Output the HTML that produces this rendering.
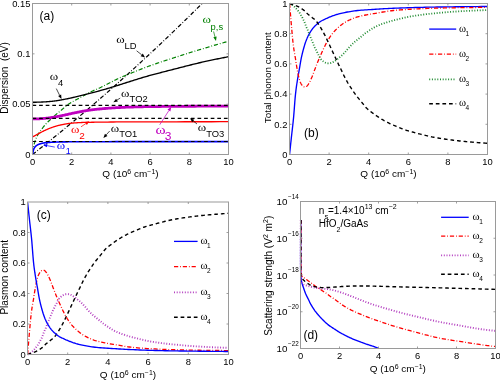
<!DOCTYPE html>
<html><head><meta charset="utf-8"><style>
html,body{margin:0;padding:0;background:#fff;}
svg{display:block;will-change:transform;filter:blur(0.35px);}
text{font-family:"Liberation Sans", sans-serif;}
</style></head><body>
<svg width="500" height="381" viewBox="0 0 500 381" xmlns="http://www.w3.org/2000/svg">
<rect width="500" height="381" fill="#fff"/>
<g id="a">
<path d="M32.50,154.50 L34.46,152.96 L36.42,151.42 L38.38,149.87 L40.34,148.32 L42.30,146.76 L44.26,145.20 L46.22,143.63 L48.18,142.06 L50.14,140.49 L52.10,138.91 L54.06,137.32 L56.02,135.73 L57.98,134.13 L59.94,132.53 L61.90,130.93 L63.86,129.32 L65.82,127.70 L67.78,126.08 L69.74,124.46 L71.70,122.83 L73.66,121.19 L75.62,119.55 L77.58,117.91 L79.54,116.26 L81.50,114.60 L83.46,112.95 L85.42,111.28 L87.38,109.61 L89.34,107.94 L91.30,106.26 L93.26,104.58 L95.22,102.89 L97.18,101.20 L99.14,99.50 L101.10,97.80 L103.06,96.09 L105.02,94.38 L106.98,92.66 L108.94,90.94 L110.90,89.21 L112.86,87.48 L114.82,85.74 L116.78,84.00 L118.74,82.26 L120.70,80.50 L122.66,78.75 L124.62,76.99 L126.58,75.22 L128.54,73.45 L130.50,71.68 L132.46,69.90 L134.42,68.11 L136.38,66.32 L138.34,64.53 L140.30,62.73 L142.26,60.92 L144.22,59.11 L146.18,57.30 L148.14,55.48 L150.10,53.66 L152.06,51.83 L154.02,49.99 L155.98,48.16 L157.94,46.31 L159.90,44.46 L161.86,42.61 L163.82,40.75 L165.78,38.89 L167.74,37.02 L169.70,35.15 L171.66,33.27 L173.62,31.39 L175.58,29.50 L177.54,27.61 L179.50,25.72 L181.46,23.81 L183.42,21.91 L185.38,20.00 L187.34,18.08 L189.30,16.16 L191.26,14.23 L193.22,12.30 L195.18,10.37 L197.14,8.43 L199.10,6.48 L201.06,4.53 L202.10,3.50" fill="none" stroke="#000" stroke-width="1.2" stroke-dasharray="4.2 1.9 0.8 1.9" stroke-linejoin="round" />
<path d="M32.60,153.00 L32.65,152.63 L32.69,152.25 L32.74,151.88 L32.78,151.52 L32.82,151.15 L32.87,150.78 L32.91,150.40 L32.96,150.03 L33.01,149.65 L33.07,149.27 L33.13,148.89 L33.20,148.50 L33.28,148.06 L33.37,147.61 L33.47,147.15 L33.57,146.68 L33.68,146.21 L33.79,145.74 L33.90,145.27 L34.02,144.81 L34.13,144.34 L34.26,143.89 L34.38,143.44 L34.50,143.00 L34.61,142.61 L34.73,142.22 L34.84,141.83 L34.96,141.45 L35.08,141.07 L35.20,140.69 L35.32,140.32 L35.45,139.95 L35.58,139.59 L35.71,139.22 L35.85,138.86 L36.00,138.50 L36.15,138.15 L36.30,137.81 L36.45,137.47 L36.61,137.13 L36.77,136.79 L36.94,136.46 L37.10,136.13 L37.28,135.80 L37.45,135.47 L37.63,135.15 L37.81,134.82 L38.00,134.50 L38.19,134.18 L38.38,133.87 L38.58,133.56 L38.78,133.26 L38.98,132.95 L39.19,132.65 L39.40,132.35 L39.61,132.04 L39.83,131.74 L40.05,131.43 L40.27,131.12 L40.50,130.80 L40.76,130.44 L41.03,130.06 L41.31,129.68 L41.59,129.30 L41.87,128.92 L42.16,128.53 L42.45,128.14 L42.74,127.76 L43.04,127.39 L43.33,127.01 L43.61,126.65 L43.90,126.30 L44.16,125.99 L44.41,125.68 L44.67,125.38 L44.93,125.08 L45.18,124.78 L45.44,124.49 L45.70,124.21 L45.95,123.92 L46.21,123.64 L46.47,123.36 L46.74,123.08 L47.00,122.80 L47.26,122.53 L47.52,122.27 L47.78,122.00 L48.05,121.74 L48.31,121.49 L48.58,121.23 L48.84,120.98 L49.11,120.72 L49.38,120.47 L49.65,120.21 L49.93,119.96 L50.20,119.70 L50.48,119.43 L50.77,119.17 L51.06,118.90 L51.35,118.63 L51.64,118.36 L51.93,118.09 L52.22,117.83 L52.52,117.56 L52.81,117.29 L53.11,117.03 L53.40,116.76 L53.70,116.50 L54.00,116.24 L54.30,115.98 L54.59,115.71 L54.90,115.45 L55.20,115.19 L55.50,114.93 L55.80,114.67 L56.10,114.42 L56.40,114.16 L56.70,113.90 L57.00,113.65 L57.30,113.40 L57.59,113.16 L57.87,112.92 L58.16,112.69 L58.44,112.45 L58.72,112.22 L59.01,111.99 L59.29,111.75 L59.57,111.52 L59.85,111.29 L60.14,111.06 L60.42,110.83 L60.70,110.60 L60.98,110.37 L61.25,110.15 L61.52,109.93 L61.79,109.71 L62.06,109.49 L62.33,109.27 L62.60,109.05 L62.87,108.83 L63.15,108.60 L63.43,108.37 L63.71,108.14 L64.00,107.90 L64.34,107.61 L64.70,107.31 L65.08,106.99 L65.46,106.66 L65.84,106.32 L66.22,105.99 L66.60,105.67 L66.97,105.35 L67.33,105.06 L67.67,104.78 L68.00,104.52 L68.30,104.30 L68.47,104.18 L68.63,104.07 L68.78,103.98 L68.92,103.89 L69.05,103.80 L69.19,103.73 L69.33,103.65 L69.46,103.57 L69.61,103.49 L69.76,103.40 L69.92,103.30 L70.10,103.20 L70.40,103.02 L70.72,102.83 L71.06,102.62 L71.42,102.40 L71.79,102.18 L72.17,101.95 L72.56,101.72 L72.96,101.49 L73.35,101.26 L73.74,101.03 L74.12,100.81 L74.50,100.60 L74.87,100.40 L75.23,100.20 L75.60,100.01 L75.97,99.81 L76.35,99.62 L76.72,99.43 L77.09,99.24 L77.46,99.05 L77.82,98.86 L78.19,98.68 L78.55,98.49 L78.90,98.30 L79.23,98.12 L79.55,97.95 L79.87,97.77 L80.19,97.59 L80.51,97.42 L80.82,97.24 L81.13,97.07 L81.45,96.89 L81.76,96.72 L82.07,96.55 L82.39,96.37 L82.70,96.20 L83.01,96.03 L83.32,95.86 L83.62,95.70 L83.93,95.53 L84.23,95.37 L84.54,95.20 L84.85,95.04 L85.15,94.87 L85.46,94.70 L85.77,94.54 L86.09,94.37 L86.40,94.20 L86.73,94.02 L87.07,93.84 L87.41,93.65 L87.75,93.46 L88.09,93.28 L88.43,93.09 L88.78,92.90 L89.12,92.72 L89.47,92.53 L89.81,92.35 L90.16,92.17 L90.50,92.00 L90.84,91.83 L91.17,91.67 L91.51,91.51 L91.84,91.35 L92.17,91.20 L92.51,91.04 L92.85,90.89 L93.19,90.73 L93.53,90.58 L93.88,90.42 L94.24,90.26 L94.60,90.10 L95.02,89.92 L95.45,89.73 L95.89,89.55 L96.34,89.37 L96.79,89.18 L97.24,88.99 L97.70,88.81 L98.16,88.61 L98.62,88.42 L99.08,88.22 L99.54,88.01 L100.00,87.80 L100.49,87.56 L100.99,87.32 L101.48,87.07 L101.98,86.81 L102.48,86.55 L102.99,86.29 L103.49,86.02 L103.99,85.75 L104.49,85.48 L105.00,85.22 L105.50,84.96 L106.00,84.70 L106.50,84.45 L106.99,84.20 L107.48,83.95 L107.97,83.71 L108.45,83.47 L108.94,83.22 L109.44,82.98 L109.94,82.73 L110.44,82.48 L110.95,82.22 L111.47,81.96 L112.00,81.70 L112.63,81.38 L113.27,81.06 L113.92,80.73 L114.58,80.39 L115.25,80.04 L115.92,79.70 L116.60,79.35 L117.28,79.01 L117.96,78.67 L118.65,78.34 L119.32,78.01 L120.00,77.70 L120.66,77.40 L121.33,77.11 L121.99,76.83 L122.66,76.55 L123.32,76.28 L123.99,76.00 L124.66,75.74 L125.33,75.47 L126.00,75.20 L126.66,74.94 L127.33,74.67 L128.00,74.40 L128.66,74.13 L129.33,73.86 L129.99,73.60 L130.65,73.33 L131.31,73.07 L131.97,72.81 L132.63,72.54 L133.30,72.28 L133.97,72.01 L134.64,71.74 L135.32,71.47 L136.00,71.20 L136.72,70.91 L137.44,70.62 L138.16,70.33 L138.87,70.03 L139.59,69.74 L140.32,69.44 L141.05,69.14 L141.80,68.84 L142.57,68.54 L143.36,68.23 L144.17,67.92 L145.00,67.60 L146.11,67.18 L147.28,66.75 L148.49,66.31 L149.73,65.87 L151.00,65.41 L152.28,64.96 L153.58,64.50 L154.89,64.05 L156.19,63.60 L157.48,63.16 L158.75,62.72 L160.00,62.30 L161.18,61.90 L162.36,61.52 L163.53,61.14 L164.70,60.76 L165.86,60.39 L167.03,60.02 L168.19,59.65 L169.35,59.29 L170.51,58.92 L171.67,58.55 L172.84,58.18 L174.00,57.80 L175.17,57.42 L176.33,57.03 L177.50,56.65 L178.67,56.26 L179.83,55.87 L181.00,55.48 L182.16,55.09 L183.33,54.71 L184.50,54.33 L185.66,53.95 L186.83,53.57 L188.00,53.20 L189.16,52.84 L190.33,52.48 L191.50,52.12 L192.66,51.77 L193.83,51.42 L195.00,51.08 L196.16,50.73 L197.33,50.39 L198.50,50.04 L199.67,49.70 L200.83,49.35 L202.00,49.00 L203.17,48.65 L204.34,48.29 L205.52,47.94 L206.69,47.58 L207.87,47.22 L209.05,46.87 L210.22,46.51 L211.39,46.16 L212.55,45.81 L213.71,45.47 L214.86,45.13 L216.00,44.80 L217.07,44.49 L218.12,44.19 L219.17,43.89 L220.22,43.60 L221.26,43.31 L222.29,43.02 L223.33,42.74 L224.36,42.45 L225.39,42.16 L226.42,41.88 L227.46,41.59 L228.50,41.30" fill="none" stroke="#008000" stroke-width="1.2" stroke-dasharray="4.2 1.9 0.8 1.9" stroke-linejoin="round" />
<path d="M32.50,102.30 L33.13,102.28 L33.76,102.27 L34.39,102.25 L35.03,102.24 L35.67,102.22 L36.30,102.21 L36.93,102.19 L37.56,102.18 L38.18,102.16 L38.80,102.14 L39.40,102.12 L40.00,102.10 L40.52,102.08 L41.04,102.06 L41.55,102.04 L42.05,102.02 L42.55,101.99 L43.04,101.97 L43.53,101.94 L44.03,101.92 L44.52,101.89 L45.01,101.86 L45.50,101.83 L46.00,101.80 L46.50,101.77 L47.00,101.73 L47.50,101.70 L48.00,101.66 L48.50,101.62 L49.00,101.58 L49.50,101.54 L50.00,101.50 L50.50,101.45 L51.00,101.40 L51.50,101.35 L52.00,101.30 L52.50,101.24 L53.00,101.19 L53.50,101.13 L54.00,101.07 L54.50,101.00 L55.00,100.94 L55.50,100.87 L56.00,100.80 L56.50,100.73 L57.00,100.65 L57.50,100.58 L58.00,100.50 L58.50,100.42 L59.00,100.34 L59.50,100.25 L60.00,100.16 L60.50,100.07 L61.00,99.97 L61.50,99.88 L62.00,99.78 L62.50,99.69 L63.00,99.59 L63.50,99.50 L64.00,99.40 L64.50,99.30 L65.00,99.21 L65.50,99.11 L66.00,99.01 L66.50,98.92 L67.00,98.82 L67.50,98.72 L68.00,98.62 L68.50,98.52 L69.00,98.41 L69.50,98.31 L70.00,98.20 L70.50,98.09 L71.00,97.98 L71.50,97.87 L72.00,97.75 L72.50,97.64 L73.00,97.52 L73.50,97.40 L74.00,97.28 L74.50,97.16 L75.00,97.04 L75.50,96.92 L76.00,96.80 L76.50,96.68 L77.00,96.56 L77.50,96.43 L78.00,96.31 L78.50,96.18 L79.00,96.06 L79.50,95.93 L80.00,95.80 L80.50,95.68 L81.00,95.55 L81.50,95.43 L82.00,95.30 L82.50,95.18 L83.00,95.05 L83.50,94.92 L84.00,94.80 L84.50,94.67 L85.00,94.55 L85.50,94.43 L86.00,94.30 L86.50,94.17 L87.00,94.05 L87.50,93.92 L88.00,93.80 L88.50,93.68 L89.00,93.55 L89.50,93.43 L90.00,93.30 L90.50,93.18 L91.00,93.06 L91.50,92.93 L92.00,92.81 L92.50,92.68 L93.00,92.56 L93.50,92.43 L94.00,92.30 L94.49,92.17 L94.98,92.05 L95.45,91.92 L95.93,91.80 L96.40,91.68 L96.87,91.55 L97.36,91.42 L97.85,91.29 L98.36,91.15 L98.88,91.01 L99.43,90.86 L100.00,90.70 L100.86,90.46 L101.76,90.20 L102.71,89.93 L103.70,89.65 L104.71,89.36 L105.75,89.06 L106.80,88.75 L107.85,88.44 L108.91,88.13 L109.96,87.82 L110.99,87.51 L112.00,87.20 L113.00,86.89 L114.00,86.58 L115.00,86.27 L116.00,85.95 L117.00,85.64 L118.00,85.32 L119.00,85.00 L120.00,84.68 L121.00,84.36 L122.00,84.04 L123.00,83.72 L124.00,83.40 L125.00,83.08 L126.00,82.76 L127.00,82.45 L128.00,82.13 L129.00,81.81 L130.00,81.49 L131.00,81.17 L132.00,80.85 L133.00,80.54 L134.00,80.22 L135.00,79.91 L136.00,79.60 L137.00,79.29 L138.00,78.98 L139.00,78.68 L140.00,78.37 L141.00,78.07 L141.99,77.76 L142.99,77.46 L144.00,77.16 L145.00,76.87 L146.00,76.58 L147.00,76.29 L148.00,76.00 L149.00,75.72 L149.99,75.45 L150.97,75.18 L151.96,74.91 L152.95,74.65 L153.94,74.38 L154.93,74.12 L155.93,73.86 L156.93,73.60 L157.95,73.34 L158.97,73.07 L160.00,72.80 L161.13,72.51 L162.27,72.21 L163.42,71.91 L164.59,71.61 L165.76,71.31 L166.93,71.01 L168.11,70.71 L169.29,70.41 L170.47,70.10 L171.65,69.80 L172.83,69.50 L174.00,69.20 L175.17,68.90 L176.33,68.60 L177.50,68.30 L178.67,67.99 L179.83,67.69 L181.00,67.39 L182.16,67.09 L183.33,66.79 L184.50,66.49 L185.67,66.19 L186.83,65.89 L188.00,65.60 L189.17,65.31 L190.33,65.02 L191.50,64.73 L192.66,64.44 L193.83,64.15 L195.00,63.86 L196.16,63.58 L197.33,63.30 L198.50,63.02 L199.66,62.74 L200.83,62.47 L202.00,62.20 L203.17,61.94 L204.34,61.67 L205.52,61.41 L206.69,61.16 L207.87,60.90 L209.05,60.65 L210.22,60.40 L211.39,60.16 L212.55,59.92 L213.71,59.67 L214.86,59.44 L216.00,59.20 L217.07,58.98 L218.12,58.76 L219.17,58.55 L220.22,58.34 L221.26,58.14 L222.29,57.93 L223.33,57.73 L224.36,57.52 L225.39,57.32 L226.42,57.11 L227.46,56.91 L228.50,56.70" fill="none" stroke="#000" stroke-width="1.35" stroke-linejoin="round" />
<path d="M32.50,119.00 L33.29,118.97 L34.08,118.94 L34.87,118.92 L35.66,118.89 L36.45,118.87 L37.24,118.84 L38.03,118.81 L38.82,118.78 L39.61,118.75 L40.40,118.70 L41.20,118.66 L42.00,118.60 L42.83,118.54 L43.65,118.47 L44.49,118.39 L45.32,118.31 L46.15,118.23 L46.99,118.14 L47.83,118.05 L48.66,117.95 L49.50,117.85 L50.33,117.74 L51.17,117.62 L52.00,117.50 L52.84,117.37 L53.67,117.23 L54.50,117.09 L55.34,116.94 L56.17,116.78 L57.01,116.62 L57.84,116.45 L58.67,116.28 L59.50,116.11 L60.34,115.94 L61.17,115.77 L62.00,115.60 L62.83,115.43 L63.67,115.25 L64.50,115.07 L65.33,114.88 L66.17,114.69 L67.00,114.51 L67.83,114.32 L68.67,114.13 L69.50,113.94 L70.33,113.76 L71.17,113.58 L72.00,113.40 L72.83,113.23 L73.67,113.05 L74.50,112.88 L75.33,112.70 L76.16,112.53 L77.00,112.36 L77.83,112.20 L78.66,112.03 L79.50,111.87 L80.33,111.71 L81.17,111.55 L82.00,111.40 L82.83,111.25 L83.65,111.11 L84.47,110.96 L85.28,110.82 L86.10,110.68 L86.91,110.55 L87.74,110.42 L88.57,110.29 L89.40,110.16 L90.25,110.04 L91.12,109.92 L92.00,109.80 L93.02,109.67 L94.05,109.55 L95.10,109.43 L96.17,109.31 L97.24,109.20 L98.33,109.09 L99.43,108.99 L100.53,108.89 L101.64,108.79 L102.76,108.69 L103.88,108.59 L105.00,108.50 L106.20,108.40 L107.41,108.31 L108.62,108.21 L109.84,108.12 L111.06,108.04 L112.30,107.95 L113.54,107.87 L114.80,107.79 L116.07,107.71 L117.36,107.64 L118.67,107.57 L120.00,107.50 L121.55,107.42 L123.12,107.35 L124.70,107.28 L126.30,107.22 L127.92,107.16 L129.57,107.10 L131.23,107.04 L132.93,106.99 L134.65,106.94 L136.40,106.89 L138.18,106.85 L140.00,106.80 L142.29,106.75 L144.65,106.70 L147.07,106.66 L149.55,106.62 L152.07,106.59 L154.62,106.56 L157.19,106.53 L159.78,106.50 L162.36,106.47 L164.93,106.45 L167.48,106.42 L170.00,106.40 L172.50,106.38 L175.01,106.35 L177.52,106.33 L180.03,106.31 L182.54,106.30 L185.05,106.28 L187.55,106.27 L190.06,106.25 L192.55,106.24 L195.04,106.23 L197.53,106.21 L200.00,106.20 L202.40,106.19 L204.79,106.18 L207.18,106.17 L209.55,106.16 L211.93,106.15 L214.30,106.14 L216.66,106.14 L219.03,106.13 L221.39,106.12 L223.76,106.12 L226.13,106.11 L228.50,106.10" fill="none" stroke="#bf00bf" stroke-width="2.8" stroke-linejoin="round" />
<path d="M32.50,137.00 L32.71,136.88 L32.91,136.77 L33.12,136.65 L33.32,136.54 L33.53,136.42 L33.73,136.30 L33.94,136.19 L34.15,136.07 L34.36,135.95 L34.57,135.84 L34.78,135.72 L35.00,135.60 L35.24,135.47 L35.47,135.34 L35.71,135.22 L35.95,135.09 L36.19,134.96 L36.43,134.83 L36.68,134.70 L36.93,134.57 L37.19,134.43 L37.45,134.29 L37.72,134.15 L38.00,134.00 L38.37,133.80 L38.76,133.59 L39.16,133.37 L39.57,133.14 L39.99,132.91 L40.42,132.67 L40.85,132.44 L41.28,132.20 L41.71,131.97 L42.15,131.74 L42.58,131.51 L43.00,131.30 L43.41,131.09 L43.83,130.89 L44.24,130.69 L44.66,130.49 L45.07,130.30 L45.49,130.10 L45.91,129.91 L46.33,129.73 L46.74,129.54 L47.16,129.36 L47.58,129.18 L48.00,129.00 L48.41,128.83 L48.83,128.66 L49.24,128.49 L49.66,128.33 L50.08,128.16 L50.49,128.00 L50.91,127.85 L51.33,127.69 L51.74,127.54 L52.16,127.39 L52.58,127.24 L53.00,127.10 L53.41,126.96 L53.83,126.82 L54.24,126.69 L54.66,126.56 L55.08,126.43 L55.49,126.30 L55.91,126.18 L56.33,126.06 L56.75,125.94 L57.16,125.82 L57.58,125.71 L58.00,125.60 L58.41,125.49 L58.83,125.39 L59.25,125.29 L59.66,125.20 L60.08,125.10 L60.50,125.01 L60.91,124.92 L61.33,124.84 L61.75,124.75 L62.16,124.67 L62.58,124.58 L63.00,124.50 L63.41,124.42 L63.81,124.34 L64.21,124.26 L64.60,124.18 L64.99,124.10 L65.39,124.02 L65.79,123.95 L66.20,123.88 L66.63,123.81 L67.06,123.74 L67.52,123.67 L68.00,123.60 L68.70,123.51 L69.43,123.42 L70.19,123.33 L70.98,123.25 L71.79,123.17 L72.62,123.10 L73.47,123.02 L74.34,122.95 L75.23,122.88 L76.14,122.82 L77.06,122.76 L78.00,122.70 L79.24,122.63 L80.50,122.57 L81.79,122.52 L83.11,122.47 L84.46,122.43 L85.84,122.39 L87.26,122.35 L88.72,122.32 L90.22,122.29 L91.76,122.26 L93.36,122.23 L95.00,122.20 L97.42,122.16 L99.90,122.12 L102.46,122.09 L105.08,122.06 L107.80,122.03 L110.61,122.01 L113.53,121.99 L116.56,121.97 L119.71,121.95 L123.00,121.94 L126.42,121.92 L130.00,121.90 L136.46,121.87 L143.53,121.84 L151.12,121.82 L159.14,121.81 L167.51,121.79 L176.13,121.78 L184.93,121.76 L193.82,121.75 L202.71,121.74 L211.51,121.73 L220.13,121.72 L228.50,121.70" fill="none" stroke="#ff0000" stroke-width="1.3" stroke-linejoin="round" />
<path d="M32.60,154.50 L32.65,154.21 L32.69,153.91 L32.74,153.61 L32.78,153.32 L32.82,153.02 L32.87,152.72 L32.91,152.43 L32.96,152.13 L33.01,151.84 L33.07,151.56 L33.13,151.28 L33.20,151.00 L33.27,150.75 L33.33,150.50 L33.41,150.26 L33.48,150.01 L33.56,149.77 L33.64,149.53 L33.72,149.30 L33.81,149.07 L33.90,148.84 L33.99,148.62 L34.09,148.41 L34.20,148.20 L34.30,148.02 L34.40,147.85 L34.50,147.67 L34.61,147.51 L34.72,147.34 L34.84,147.18 L34.96,147.03 L35.08,146.88 L35.20,146.73 L35.33,146.58 L35.46,146.44 L35.60,146.30 L35.74,146.16 L35.88,146.03 L36.03,145.90 L36.18,145.78 L36.33,145.66 L36.49,145.54 L36.65,145.43 L36.82,145.31 L36.98,145.21 L37.15,145.10 L37.33,145.00 L37.50,144.90 L37.69,144.80 L37.89,144.70 L38.08,144.61 L38.29,144.52 L38.49,144.43 L38.70,144.35 L38.91,144.27 L39.13,144.20 L39.34,144.12 L39.56,144.05 L39.78,143.97 L40.00,143.90 L40.24,143.82 L40.47,143.75 L40.71,143.67 L40.95,143.60 L41.19,143.53 L41.43,143.46 L41.68,143.40 L41.93,143.33 L42.19,143.27 L42.45,143.21 L42.72,143.16 L43.00,143.10 L43.37,143.03 L43.75,142.97 L44.14,142.91 L44.54,142.86 L44.95,142.80 L45.36,142.76 L45.79,142.71 L46.22,142.66 L46.66,142.62 L47.10,142.58 L47.55,142.54 L48.00,142.50 L48.53,142.45 L49.07,142.41 L49.60,142.37 L50.15,142.34 L50.70,142.30 L51.26,142.27 L51.84,142.24 L52.43,142.21 L53.04,142.18 L53.67,142.15 L54.32,142.13 L55.00,142.10 L56.04,142.06 L57.11,142.03 L58.23,142.00 L59.39,141.97 L60.59,141.94 L61.82,141.92 L63.10,141.89 L64.41,141.87 L65.76,141.85 L67.14,141.84 L68.55,141.82 L70.00,141.80 L72.07,141.78 L74.16,141.76 L76.29,141.75 L78.46,141.74 L80.71,141.73 L83.05,141.72 L85.50,141.72 L88.07,141.72 L90.79,141.71 L93.67,141.71 L96.74,141.71 L100.00,141.70 L107.57,141.69 L116.23,141.67 L125.83,141.66 L136.20,141.66 L147.19,141.65 L158.65,141.64 L170.42,141.63 L182.35,141.63 L194.28,141.62 L206.05,141.61 L217.51,141.61 L228.50,141.60" fill="none" stroke="#0000ff" stroke-width="1.6" stroke-linejoin="round" />
<path d="M32.5,141.5 H228.5" stroke="#000" stroke-width="1.2" stroke-dasharray="3.7 2.9" fill="none"/>
<path d="M32.5,118.4 H228.5" stroke="#000" stroke-width="1.2" stroke-dasharray="3.7 2.9" fill="none"/>
<path d="M32.5,105.4 H228.5" stroke="#000" stroke-width="1.2" stroke-dasharray="3.7 2.9" fill="none"/>
<rect x="32.5" y="3.5" width="196.0" height="151.0" fill="none" stroke="#9a9a9a" stroke-width="1"/>
<path d="M71.70,154.5 v-2.0 M71.70,3.5 v2.0 M110.90,154.5 v-2.0 M110.90,3.5 v2.0 M150.10,154.5 v-2.0 M150.10,3.5 v2.0 M189.30,154.5 v-2.0 M189.30,3.5 v2.0 M32.5,104.17 h2.0 M228.5,104.17 h-2.0 M32.5,53.83 h2.0 M228.5,53.83 h-2.0" stroke="#888" stroke-width="0.8" fill="none"/>
<text x="32.50" y="164.6" font-size="9.4" text-anchor="middle" fill="#000" >0</text>
<text x="71.70" y="164.6" font-size="9.4" text-anchor="middle" fill="#000" >2</text>
<text x="110.90" y="164.6" font-size="9.4" text-anchor="middle" fill="#000" >4</text>
<text x="150.10" y="164.6" font-size="9.4" text-anchor="middle" fill="#000" >6</text>
<text x="189.30" y="164.6" font-size="9.4" text-anchor="middle" fill="#000" >8</text>
<text x="228.50" y="164.6" font-size="9.4" text-anchor="middle" fill="#000" >10</text>
<text x="30.4" y="157.80" font-size="9.4" text-anchor="end" fill="#000" >0</text>
<text x="30.4" y="107.47" font-size="9.4" text-anchor="end" fill="#000" >0.05</text>
<text x="30.4" y="57.13" font-size="9.4" text-anchor="end" fill="#000" >0.1</text>
<text x="30.4" y="6.80" font-size="9.4" text-anchor="end" fill="#000" >0.15</text>
<text transform="translate(130.5,177.4) scale(1,0.9)" font-size="10" text-anchor="middle" fill="#000" >Q (10<tspan dy="-4" font-size="7">6</tspan><tspan dy="4"> cm</tspan><tspan dy="-4" font-size="7">&#8722;1</tspan><tspan dy="4">)</tspan></text>
<text transform="translate(7.6,78) rotate(-90)" font-size="10" text-anchor="middle">Dispersion&#160; (eV)</text>
<text x="39.6" y="20.3" font-size="12" text-anchor="start" fill="#000" >(a)</text>
<text transform="translate(116.2,43.0) scale(1.22,1.0)" font-size="10.50" fill="#000" style="font-family:'Liberation Serif',serif">&#969;</text>
<text transform="translate(124.41,48.60) scale(1,0.92)" font-size="9.4" fill="#000">LD</text>
<path d="M136.60,50.80 L141.70,54.81" stroke="#000" stroke-width="0.7" fill="none"/>
<path d="M145.00,57.40 L140.65,56.14 L142.75,53.47 Z" fill="#000"/>
<text transform="translate(202.4,23.3) scale(1.22,1.0)" font-size="10.50" fill="#008000" style="font-family:'Liberation Serif',serif">&#969;</text>
<text transform="translate(210.61,30.30) scale(1,0.92)" font-size="9.4" fill="#008000">p,s</text>
<path d="M213.60,31.50 L214.97,36.93" stroke="#008000" stroke-width="0.7" fill="none"/>
<path d="M216.00,41.00 L213.32,37.34 L216.62,36.51 Z" fill="#008000"/>
<text transform="translate(49.699999999999996,79.9) scale(1.22,1.0)" font-size="10.50" fill="#000" style="font-family:'Liberation Serif',serif">&#969;</text>
<text transform="translate(57.91,85.60) scale(1,0.92)" font-size="9.4" fill="#000">4</text>
<path d="M56.30,88.60 L59.64,95.34" stroke="#000" stroke-width="0.7" fill="none"/>
<path d="M61.50,99.10 L58.11,96.09 L61.16,94.58 Z" fill="#000"/>
<text transform="translate(121.10000000000001,96.7) scale(1.22,1.0)" font-size="10.50" fill="#000" style="font-family:'Liberation Serif',serif">&#969;</text>
<text transform="translate(129.61,101.60) scale(1,0.92)" font-size="9.4" fill="#000">TO2</text>
<path d="M120.20,98.10 L116.97,100.09" stroke="#000" stroke-width="0.7" fill="none"/>
<path d="M113.40,102.30 L116.08,98.65 L117.87,101.54 Z" fill="#000"/>
<text transform="translate(110.7,132.2) scale(1.22,1.0)" font-size="10.50" fill="#000" style="font-family:'Liberation Serif',serif">&#969;</text>
<text transform="translate(119.21,137.30) scale(1,0.92)" font-size="9.4" fill="#000">TO1</text>
<path d="M109.70,131.00 L106.21,134.88" stroke="#000" stroke-width="0.7" fill="none"/>
<path d="M103.40,138.00 L104.95,133.74 L107.47,136.02 Z" fill="#000"/>
<text transform="translate(197.70000000000002,130.7) scale(1.22,1.0)" font-size="10.50" fill="#000" style="font-family:'Liberation Serif',serif">&#969;</text>
<text transform="translate(206.21,136.80) scale(1,0.92)" font-size="9.4" fill="#000">TO3</text>
<path d="M197.00,124.00 L193.26,120.95" stroke="#000" stroke-width="0.7" fill="none"/>
<path d="M190.00,118.30 L194.33,119.63 L192.18,122.27 Z" fill="#000"/>
<text transform="translate(70.9,133.1) scale(1.22,1.0)" font-size="10.50" fill="#ff0000" style="font-family:'Liberation Serif',serif">&#969;</text>
<text transform="translate(79.31,138.50) scale(1,0.9)" font-size="10" fill="#ff0000">2</text>
<path d="M81.00,126.80 L85.91,123.53" stroke="#ff0000" stroke-width="0.7" fill="none"/>
<path d="M89.40,121.20 L86.85,124.94 L84.96,122.12 Z" fill="#ff0000"/>
<text transform="translate(155.5,133.7) scale(1.22,1.0)" font-size="12.60" fill="#bf00bf" style="font-family:'Liberation Serif',serif">&#969;</text>
<text transform="translate(164.67,139.90) scale(1,0.92)" font-size="12" fill="#bf00bf">3</text>
<path d="M159.70,124.80 L168.92,110.53" stroke="#bf00bf" stroke-width="0.7" fill="none"/>
<path d="M171.20,107.00 L170.35,111.45 L167.49,109.61 Z" fill="#bf00bf"/>
<text transform="translate(56.699999999999996,149.2) scale(1.22,1.0)" font-size="10.50" fill="#0000ff" style="font-family:'Liberation Serif',serif">&#969;</text>
<text transform="translate(65.81,153.80) scale(1,0.92)" font-size="9" fill="#0000ff">1</text>
<path d="M54.80,147.10 L47.13,145.67" stroke="#0000ff" stroke-width="0.7" fill="none"/>
<path d="M43.00,144.90 L47.44,144.00 L46.82,147.34 Z" fill="#0000ff"/>
</g>
<g id="b">
<path d="M289.60,154.20 L289.75,152.74 L289.91,151.28 L290.06,149.82 L290.22,148.37 L290.37,146.91 L290.53,145.45 L290.68,143.99 L290.84,142.53 L291.00,141.07 L291.15,139.61 L291.31,138.14 L291.47,136.68 L291.63,135.21 L291.80,133.74 L291.96,132.29 L292.13,130.84 L292.30,129.39 L292.47,127.94 L292.63,126.47 L292.80,124.99 L292.96,123.50 L293.13,121.98 L293.28,120.43 L293.44,118.85 L293.62,116.96 L293.79,114.96 L293.96,112.89 L294.13,110.76 L294.30,108.62 L294.46,106.47 L294.62,104.35 L294.78,102.29 L294.94,100.31 L295.10,98.43 L295.26,96.68 L295.41,95.09 L295.50,94.20 L295.59,93.35 L295.68,92.56 L295.77,91.80 L295.85,91.07 L295.94,90.36 L296.03,89.66 L296.11,88.98 L296.20,88.30 L296.30,87.61 L296.39,86.90 L296.49,86.18 L296.60,85.45 L296.70,84.72 L296.81,83.99 L296.93,83.26 L297.04,82.53 L297.16,81.80 L297.27,81.07 L297.39,80.35 L297.51,79.63 L297.63,78.90 L297.75,78.18 L297.87,77.47 L297.99,76.77 L298.11,76.08 L298.23,75.40 L298.35,74.73 L298.47,74.06 L298.59,73.38 L298.71,72.70 L298.84,72.02 L298.96,71.32 L299.09,70.61 L299.22,69.89 L299.35,69.15 L299.51,68.24 L299.67,67.31 L299.83,66.35 L299.99,65.37 L300.15,64.38 L300.32,63.37 L300.49,62.37 L300.67,61.37 L300.85,60.37 L301.03,59.38 L301.22,58.41 L301.42,57.46 L301.61,56.58 L301.81,55.69 L302.02,54.80 L302.23,53.91 L302.45,53.03 L302.67,52.15 L302.89,51.29 L303.11,50.44 L303.33,49.61 L303.55,48.80 L303.77,48.02 L303.98,47.27 L304.14,46.70 L304.31,46.14 L304.46,45.61 L304.62,45.08 L304.78,44.57 L304.94,44.07 L305.10,43.57 L305.26,43.08 L305.42,42.59 L305.59,42.11 L305.77,41.62 L305.95,41.13 L306.13,40.65 L306.31,40.17 L306.50,39.70 L306.68,39.23 L306.87,38.76 L307.07,38.30 L307.26,37.83 L307.47,37.38 L307.67,36.92 L307.88,36.47 L308.10,36.02 L308.31,35.58 L308.53,35.16 L308.75,34.74 L308.98,34.32 L309.21,33.90 L309.45,33.49 L309.69,33.08 L309.93,32.67 L310.17,32.27 L310.42,31.88 L310.67,31.49 L310.92,31.11 L311.17,30.73 L311.40,30.39 L311.63,30.05 L311.86,29.72 L312.08,29.40 L312.31,29.08 L312.54,28.77 L312.78,28.45 L313.02,28.14 L313.28,27.83 L313.55,27.51 L313.83,27.19 L314.13,26.87 L314.53,26.45 L314.96,26.02 L315.41,25.57 L315.88,25.13 L316.37,24.68 L316.87,24.23 L317.37,23.79 L317.89,23.36 L318.41,22.95 L318.92,22.55 L319.44,22.17 L319.94,21.82 L320.39,21.52 L320.84,21.24 L321.29,20.98 L321.75,20.73 L322.20,20.49 L322.66,20.26 L323.12,20.04 L323.58,19.82 L324.05,19.60 L324.52,19.39 L324.98,19.17 L325.46,18.95 L325.93,18.72 L326.41,18.49 L326.89,18.27 L327.37,18.05 L327.86,17.83 L328.34,17.62 L328.83,17.40 L329.32,17.19 L329.82,16.99 L330.33,16.78 L330.84,16.57 L331.37,16.37 L331.95,16.15 L332.52,15.93 L333.10,15.72 L333.68,15.51 L334.27,15.30 L334.87,15.09 L335.48,14.89 L336.11,14.68 L336.76,14.48 L337.43,14.29 L338.12,14.09 L338.85,13.90 L339.93,13.62 L341.07,13.35 L342.25,13.08 L343.49,12.81 L344.76,12.54 L346.06,12.28 L347.40,12.03 L348.76,11.79 L350.13,11.56 L351.52,11.33 L352.92,11.12 L354.32,10.93 L355.98,10.72 L357.71,10.53 L359.49,10.35 L361.30,10.20 L363.13,10.05 L364.98,9.92 L366.84,9.80 L368.68,9.68 L370.49,9.57 L372.28,9.46 L374.01,9.35 L375.69,9.24 L377.08,9.15 L378.40,9.06 L379.69,8.98 L380.95,8.90 L382.19,8.83 L383.43,8.76 L384.68,8.69 L385.94,8.62 L387.24,8.55 L388.59,8.49 L389.99,8.42 L391.46,8.35 L393.54,8.26 L395.72,8.17 L397.99,8.08 L400.33,7.99 L402.73,7.90 L405.18,7.81 L407.66,7.73 L410.15,7.65 L412.65,7.57 L415.14,7.50 L417.60,7.43 L420.02,7.36 L422.46,7.30 L424.88,7.25 L427.29,7.20 L429.70,7.15 L432.11,7.11 L434.54,7.07 L436.97,7.04 L439.43,7.00 L441.92,6.97 L444.43,6.94 L446.98,6.90 L449.57,6.87 L452.57,6.83 L455.62,6.79 L458.72,6.76 L461.87,6.72 L465.04,6.69 L468.24,6.66 L471.46,6.63 L474.68,6.60 L477.91,6.57 L481.12,6.53 L484.32,6.50 L487.50,6.47" fill="none" stroke="#0000ff" stroke-width="1.35" stroke-linejoin="round" />
<path d="M289.60,3.50 L289.65,4.10 L289.69,4.68 L289.74,5.26 L289.78,5.83 L289.83,6.39 L289.88,6.97 L289.92,7.55 L289.97,8.15 L290.02,8.77 L290.07,9.42 L290.13,10.11 L290.19,10.83 L290.29,12.03 L290.40,13.33 L290.51,14.72 L290.63,16.17 L290.75,17.68 L290.88,19.22 L291.01,20.79 L291.15,22.35 L291.28,23.91 L291.41,25.44 L291.54,26.93 L291.67,28.35 L291.78,29.63 L291.89,30.90 L292.01,32.18 L292.12,33.45 L292.23,34.71 L292.34,35.95 L292.46,37.18 L292.57,38.39 L292.69,39.57 L292.81,40.72 L292.93,41.83 L293.05,42.91 L293.14,43.71 L293.24,44.49 L293.33,45.26 L293.43,46.00 L293.53,46.73 L293.62,47.45 L293.72,48.15 L293.82,48.85 L293.92,49.53 L294.02,50.20 L294.13,50.86 L294.23,51.52 L294.32,52.07 L294.40,52.59 L294.49,53.10 L294.58,53.60 L294.67,54.09 L294.76,54.58 L294.85,55.06 L294.94,55.56 L295.03,56.06 L295.12,56.57 L295.22,57.11 L295.31,57.66 L295.43,58.38 L295.55,59.12 L295.67,59.89 L295.79,60.67 L295.91,61.47 L296.03,62.28 L296.15,63.09 L296.28,63.91 L296.40,64.72 L296.53,65.52 L296.66,66.30 L296.79,67.07 L296.91,67.78 L297.03,68.48 L297.16,69.18 L297.28,69.88 L297.40,70.57 L297.53,71.26 L297.65,71.94 L297.79,72.62 L297.92,73.29 L298.06,73.96 L298.21,74.63 L298.37,75.29 L298.51,75.91 L298.66,76.54 L298.81,77.17 L298.96,77.80 L299.12,78.43 L299.28,79.05 L299.45,79.65 L299.63,80.25 L299.81,80.82 L300.01,81.38 L300.21,81.91 L300.43,82.42 L300.62,82.80 L300.81,83.19 L301.01,83.57 L301.22,83.94 L301.43,84.31 L301.65,84.66 L301.87,84.99 L302.09,85.30 L302.32,85.59 L302.54,85.85 L302.77,86.08 L303.00,86.28 L303.14,86.39 L303.29,86.49 L303.43,86.58 L303.58,86.66 L303.73,86.72 L303.88,86.78 L304.03,86.84 L304.18,86.88 L304.33,86.91 L304.48,86.94 L304.62,86.96 L304.77,86.97 L304.90,86.98 L305.03,86.98 L305.17,86.97 L305.30,86.96 L305.43,86.94 L305.56,86.91 L305.69,86.87 L305.82,86.83 L305.95,86.78 L306.08,86.72 L306.21,86.65 L306.34,86.57 L306.54,86.44 L306.74,86.27 L306.94,86.08 L307.14,85.87 L307.34,85.64 L307.54,85.40 L307.73,85.14 L307.93,84.87 L308.13,84.59 L308.32,84.30 L308.52,84.00 L308.71,83.70 L308.97,83.28 L309.23,82.83 L309.49,82.36 L309.75,81.86 L310.01,81.35 L310.26,80.82 L310.52,80.27 L310.77,79.72 L311.02,79.16 L311.27,78.60 L311.52,78.03 L311.76,77.47 L312.04,76.82 L312.30,76.16 L312.57,75.49 L312.83,74.81 L313.08,74.11 L313.34,73.41 L313.60,72.71 L313.85,72.00 L314.11,71.29 L314.38,70.57 L314.64,69.86 L314.91,69.15 L315.21,68.40 L315.50,67.64 L315.80,66.87 L316.09,66.10 L316.39,65.33 L316.70,64.56 L317.00,63.78 L317.31,63.01 L317.62,62.24 L317.93,61.47 L318.24,60.70 L318.56,59.94 L318.88,59.19 L319.19,58.44 L319.52,57.69 L319.84,56.94 L320.17,56.20 L320.49,55.45 L320.82,54.71 L321.16,53.97 L321.49,53.23 L321.82,52.49 L322.16,51.76 L322.50,51.03 L322.84,50.30 L323.17,49.57 L323.51,48.84 L323.85,48.11 L324.20,47.38 L324.54,46.66 L324.89,45.94 L325.24,45.22 L325.59,44.52 L325.94,43.84 L326.29,43.17 L326.64,42.51 L326.94,41.96 L327.25,41.41 L327.55,40.87 L327.86,40.35 L328.17,39.83 L328.47,39.32 L328.78,38.81 L329.10,38.32 L329.41,37.82 L329.73,37.34 L330.05,36.85 L330.38,36.37 L330.69,35.93 L330.99,35.50 L331.29,35.07 L331.58,34.66 L331.88,34.25 L332.19,33.84 L332.50,33.43 L332.83,33.02 L333.17,32.61 L333.53,32.19 L333.91,31.76 L334.32,31.32 L334.92,30.70 L335.55,30.06 L336.23,29.39 L336.93,28.71 L337.67,28.02 L338.43,27.33 L339.21,26.65 L340.01,25.97 L340.82,25.32 L341.64,24.68 L342.46,24.07 L343.29,23.50 L344.13,22.95 L344.99,22.41 L345.87,21.89 L346.76,21.39 L347.67,20.90 L348.58,20.43 L349.51,19.98 L350.45,19.54 L351.40,19.12 L352.37,18.72 L353.34,18.33 L354.32,17.96 L355.38,17.58 L356.49,17.22 L357.62,16.89 L358.78,16.57 L359.94,16.27 L361.12,15.99 L362.28,15.73 L363.43,15.48 L364.56,15.24 L365.66,15.01 L366.71,14.80 L367.71,14.59 L368.44,14.44 L369.13,14.32 L369.79,14.20 L370.42,14.10 L371.04,14.00 L371.66,13.91 L372.28,13.81 L372.91,13.72 L373.56,13.63 L374.23,13.53 L374.94,13.42 L375.69,13.30 L376.80,13.12 L377.95,12.91 L379.13,12.70 L380.35,12.48 L381.61,12.25 L382.90,12.01 L384.22,11.78 L385.59,11.55 L386.98,11.33 L388.41,11.11 L389.87,10.91 L391.36,10.73 L393.44,10.50 L395.62,10.29 L397.90,10.09 L400.25,9.90 L402.66,9.73 L405.12,9.56 L407.60,9.41 L410.11,9.26 L412.62,9.13 L415.12,8.99 L417.59,8.87 L420.02,8.75 L422.46,8.63 L424.88,8.53 L427.29,8.44 L429.70,8.35 L432.12,8.28 L434.54,8.21 L436.98,8.14 L439.43,8.08 L441.92,8.02 L444.43,7.97 L446.98,7.91 L449.57,7.86 L452.57,7.80 L455.62,7.74 L458.72,7.69 L461.87,7.65 L465.04,7.61 L468.24,7.58 L471.46,7.54 L474.68,7.51 L477.91,7.47 L481.12,7.44 L484.32,7.40 L487.50,7.36" fill="none" stroke="#ff0000" stroke-width="1.3" stroke-dasharray="4.2 1.9 0.8 1.9" stroke-linejoin="round" />
<path d="M289.60,3.50 L289.71,3.55 L289.83,3.60 L289.95,3.64 L290.06,3.69 L290.18,3.73 L290.29,3.78 L290.41,3.82 L290.52,3.87 L290.64,3.92 L290.75,3.98 L290.87,4.03 L290.98,4.09 L291.09,4.16 L291.21,4.23 L291.32,4.31 L291.44,4.39 L291.55,4.46 L291.66,4.55 L291.77,4.63 L291.88,4.72 L292.00,4.81 L292.11,4.90 L292.23,4.99 L292.36,5.08 L292.52,5.21 L292.68,5.34 L292.85,5.47 L293.03,5.61 L293.21,5.75 L293.39,5.89 L293.57,6.03 L293.74,6.18 L293.92,6.33 L294.09,6.48 L294.26,6.62 L294.43,6.77 L294.57,6.90 L294.72,7.04 L294.86,7.18 L295.01,7.31 L295.15,7.45 L295.28,7.59 L295.42,7.73 L295.56,7.87 L295.69,8.01 L295.83,8.16 L295.96,8.30 L296.10,8.45 L296.24,8.61 L296.38,8.77 L296.53,8.93 L296.67,9.09 L296.81,9.25 L296.95,9.42 L297.08,9.59 L297.22,9.75 L297.36,9.92 L297.50,10.09 L297.64,10.26 L297.77,10.43 L297.92,10.61 L298.06,10.79 L298.20,10.97 L298.35,11.15 L298.49,11.33 L298.64,11.51 L298.78,11.69 L298.92,11.88 L299.05,12.06 L299.19,12.24 L299.32,12.43 L299.45,12.61 L299.57,12.78 L299.68,12.95 L299.79,13.12 L299.90,13.29 L300.00,13.46 L300.11,13.63 L300.21,13.81 L300.31,13.98 L300.42,14.15 L300.52,14.33 L300.62,14.51 L300.73,14.69 L300.84,14.89 L300.96,15.09 L301.08,15.29 L301.19,15.49 L301.31,15.70 L301.42,15.90 L301.54,16.11 L301.65,16.32 L301.77,16.53 L301.88,16.74 L302.00,16.95 L302.11,17.16 L302.23,17.38 L302.35,17.60 L302.46,17.83 L302.58,18.05 L302.70,18.27 L302.82,18.50 L302.94,18.73 L303.05,18.95 L303.17,19.17 L303.28,19.40 L303.38,19.62 L303.49,19.84 L303.58,20.04 L303.67,20.24 L303.75,20.44 L303.84,20.63 L303.92,20.83 L304.00,21.02 L304.08,21.22 L304.16,21.42 L304.24,21.61 L304.31,21.81 L304.39,22.01 L304.47,22.21 L304.56,22.42 L304.64,22.64 L304.72,22.85 L304.80,23.07 L304.89,23.28 L304.97,23.50 L305.05,23.71 L305.13,23.93 L305.21,24.15 L305.29,24.36 L305.38,24.58 L305.46,24.79 L305.54,25.00 L305.62,25.20 L305.70,25.41 L305.78,25.61 L305.86,25.82 L305.94,26.02 L306.02,26.22 L306.10,26.43 L306.18,26.64 L306.27,26.84 L306.35,27.05 L306.44,27.26 L306.54,27.49 L306.64,27.72 L306.74,27.95 L306.85,28.18 L306.95,28.41 L307.06,28.64 L307.17,28.87 L307.28,29.11 L307.39,29.36 L307.50,29.61 L307.61,29.87 L307.72,30.14 L307.87,30.50 L308.02,30.88 L308.17,31.27 L308.32,31.68 L308.48,32.10 L308.63,32.52 L308.79,32.95 L308.95,33.38 L309.11,33.81 L309.27,34.24 L309.43,34.67 L309.60,35.09 L309.77,35.51 L309.94,35.94 L310.12,36.37 L310.31,36.81 L310.49,37.24 L310.68,37.67 L310.86,38.10 L311.05,38.53 L311.23,38.96 L311.41,39.39 L311.59,39.81 L311.76,40.24 L311.93,40.63 L312.09,41.04 L312.25,41.45 L312.42,41.85 L312.58,42.26 L312.74,42.66 L312.90,43.06 L313.05,43.45 L313.20,43.83 L313.35,44.20 L313.50,44.55 L313.63,44.89 L313.73,45.13 L313.83,45.36 L313.92,45.59 L314.01,45.81 L314.09,46.02 L314.18,46.23 L314.27,46.44 L314.35,46.64 L314.44,46.84 L314.53,47.05 L314.62,47.25 L314.72,47.46 L314.82,47.67 L314.92,47.88 L315.03,48.09 L315.13,48.30 L315.24,48.51 L315.35,48.72 L315.46,48.92 L315.57,49.13 L315.68,49.33 L315.79,49.54 L315.90,49.74 L316.00,49.94 L316.09,50.12 L316.18,50.31 L316.27,50.49 L316.36,50.67 L316.45,50.85 L316.54,51.03 L316.63,51.21 L316.72,51.39 L316.81,51.57 L316.90,51.75 L316.99,51.93 L317.08,52.12 L317.18,52.32 L317.29,52.52 L317.39,52.72 L317.50,52.93 L317.60,53.13 L317.71,53.34 L317.82,53.55 L317.93,53.75 L318.04,53.96 L318.15,54.17 L318.25,54.38 L318.36,54.59 L318.48,54.81 L318.59,55.04 L318.70,55.26 L318.81,55.49 L318.93,55.72 L319.04,55.94 L319.16,56.17 L319.27,56.40 L319.39,56.62 L319.50,56.84 L319.62,57.05 L319.74,57.27 L319.85,57.46 L319.96,57.65 L320.06,57.84 L320.17,58.03 L320.27,58.21 L320.38,58.39 L320.49,58.57 L320.61,58.75 L320.73,58.93 L320.85,59.10 L320.98,59.28 L321.12,59.44 L321.28,59.62 L321.45,59.80 L321.63,59.98 L321.81,60.15 L322.00,60.32 L322.19,60.49 L322.39,60.66 L322.59,60.82 L322.79,60.98 L322.99,61.13 L323.19,61.28 L323.39,61.42 L323.58,61.56 L323.76,61.69 L323.95,61.83 L324.14,61.96 L324.34,62.08 L324.53,62.20 L324.73,62.32 L324.93,62.43 L325.13,62.54 L325.33,62.64 L325.54,62.73 L325.75,62.81 L325.97,62.89 L326.20,62.96 L326.44,63.02 L326.68,63.08 L326.92,63.13 L327.16,63.18 L327.41,63.21 L327.65,63.25 L327.89,63.27 L328.14,63.29 L328.37,63.30 L328.61,63.31 L328.83,63.30 L329.04,63.30 L329.26,63.28 L329.48,63.26 L329.69,63.24 L329.91,63.20 L330.12,63.17 L330.33,63.12 L330.55,63.08 L330.76,63.03 L330.96,62.97 L331.17,62.91 L331.37,62.84 L331.57,62.77 L331.77,62.70 L331.97,62.61 L332.17,62.53 L332.36,62.44 L332.56,62.34 L332.75,62.24 L332.95,62.14 L333.14,62.04 L333.34,61.93 L333.53,61.82 L333.75,61.70 L333.96,61.57 L334.18,61.44 L334.40,61.30 L334.62,61.16 L334.84,61.02 L335.05,60.87 L335.27,60.73 L335.48,60.58 L335.69,60.43 L335.89,60.28 L336.09,60.14 L336.28,60.00 L336.46,59.86 L336.63,59.72 L336.81,59.58 L336.98,59.44 L337.15,59.30 L337.32,59.16 L337.48,59.02 L337.65,58.88 L337.82,58.74 L337.99,58.59 L338.16,58.45 L338.34,58.31 L338.51,58.17 L338.68,58.04 L338.85,57.90 L339.03,57.76 L339.20,57.62 L339.37,57.48 L339.54,57.34 L339.72,57.20 L339.89,57.06 L340.06,56.91 L340.23,56.77 L340.40,56.63 L340.57,56.49 L340.74,56.35 L340.90,56.21 L341.07,56.08 L341.24,55.94 L341.41,55.80 L341.58,55.65 L341.75,55.50 L341.93,55.34 L342.11,55.17 L342.30,54.99 L342.58,54.72 L342.87,54.43 L343.17,54.12 L343.48,53.80 L343.80,53.47 L344.12,53.13 L344.45,52.78 L344.77,52.42 L345.10,52.07 L345.42,51.72 L345.74,51.37 L346.04,51.03 L346.34,50.69 L346.64,50.34 L346.94,50.00 L347.23,49.65 L347.52,49.30 L347.81,48.95 L348.10,48.59 L348.39,48.24 L348.68,47.90 L348.98,47.55 L349.28,47.21 L349.59,46.87 L349.90,46.53 L350.22,46.19 L350.54,45.85 L350.86,45.52 L351.18,45.18 L351.51,44.85 L351.84,44.52 L352.17,44.19 L352.51,43.87 L352.84,43.55 L353.19,43.23 L353.53,42.91 L353.89,42.59 L354.25,42.27 L354.62,41.96 L354.99,41.65 L355.36,41.34 L355.74,41.03 L356.12,40.73 L356.50,40.43 L356.87,40.13 L357.24,39.83 L357.60,39.54 L357.96,39.24 L358.29,38.98 L358.60,38.72 L358.92,38.46 L359.23,38.20 L359.54,37.95 L359.85,37.69 L360.15,37.44 L360.46,37.19 L360.77,36.94 L361.08,36.69 L361.39,36.43 L361.71,36.18 L362.03,35.91 L362.35,35.65 L362.67,35.38 L362.99,35.12 L363.31,34.85 L363.64,34.58 L363.96,34.32 L364.29,34.05 L364.62,33.79 L364.96,33.53 L365.30,33.26 L365.65,33.01 L366.02,32.74 L366.40,32.46 L366.79,32.19 L367.18,31.93 L367.57,31.66 L367.97,31.39 L368.37,31.13 L368.77,30.87 L369.17,30.61 L369.58,30.35 L369.98,30.09 L370.37,29.84 L370.76,29.59 L371.15,29.34 L371.54,29.09 L371.93,28.84 L372.31,28.60 L372.70,28.36 L373.09,28.12 L373.48,27.88 L373.88,27.64 L374.28,27.41 L374.69,27.19 L375.10,26.97 L375.54,26.74 L375.99,26.52 L376.44,26.30 L376.89,26.08 L377.35,25.87 L377.82,25.66 L378.28,25.46 L378.75,25.25 L379.22,25.06 L379.69,24.87 L380.15,24.68 L380.62,24.49 L381.08,24.31 L381.54,24.14 L382.00,23.98 L382.47,23.81 L382.93,23.65 L383.40,23.50 L383.86,23.35 L384.32,23.20 L384.78,23.05 L385.24,22.90 L385.69,22.76 L386.14,22.61 L386.54,22.48 L386.93,22.35 L387.31,22.22 L387.69,22.10 L388.07,21.98 L388.44,21.86 L388.82,21.74 L389.21,21.62 L389.60,21.50 L390.01,21.38 L390.43,21.25 L390.86,21.12 L391.45,20.96 L392.06,20.79 L392.69,20.62 L393.34,20.44 L394.01,20.27 L394.68,20.09 L395.36,19.92 L396.06,19.74 L396.75,19.57 L397.45,19.39 L398.15,19.22 L398.84,19.05 L399.60,18.86 L400.35,18.67 L401.12,18.48 L401.89,18.29 L402.67,18.10 L403.45,17.91 L404.24,17.73 L405.03,17.55 L405.82,17.37 L406.62,17.19 L407.41,17.03 L408.20,16.87 L409.01,16.71 L409.82,16.56 L410.64,16.42 L411.46,16.28 L412.28,16.15 L413.11,16.02 L413.93,15.89 L414.76,15.77 L415.58,15.64 L416.41,15.52 L417.23,15.40 L418.05,15.28 L418.87,15.16 L419.69,15.05 L420.51,14.93 L421.33,14.82 L422.15,14.71 L422.98,14.60 L423.80,14.50 L424.62,14.39 L425.44,14.29 L426.26,14.19 L427.08,14.09 L427.90,14.00 L428.72,13.90 L429.54,13.81 L430.36,13.73 L431.19,13.64 L432.01,13.56 L432.83,13.48 L433.65,13.40 L434.47,13.32 L435.29,13.24 L436.11,13.16 L436.93,13.08 L437.75,13.01 L438.57,12.93 L439.38,12.85 L440.19,12.77 L441.00,12.70 L441.81,12.62 L442.62,12.54 L443.44,12.47 L444.25,12.40 L445.08,12.32 L445.91,12.25 L446.75,12.18 L447.60,12.11 L448.55,12.04 L449.50,11.97 L450.46,11.90 L451.43,11.83 L452.41,11.76 L453.39,11.70 L454.38,11.63 L455.38,11.57 L456.38,11.51 L457.39,11.44 L458.40,11.38 L459.43,11.32 L460.54,11.26 L461.66,11.20 L462.79,11.13 L463.93,11.07 L465.08,11.02 L466.24,10.96 L467.40,10.90 L468.56,10.85 L469.73,10.79 L470.89,10.74 L472.06,10.68 L473.22,10.63 L474.40,10.58 L475.58,10.52 L476.77,10.47 L477.96,10.42 L479.15,10.37 L480.34,10.33 L481.54,10.28 L482.73,10.23 L483.92,10.18 L485.12,10.13 L486.31,10.08 L487.50,10.04" fill="none" stroke="#1f8a30" stroke-width="1.8" stroke-dasharray="1 1.7" stroke-linejoin="round" />
<path d="M289.60,3.50 L289.71,3.55 L289.82,3.60 L289.93,3.65 L290.04,3.70 L290.14,3.75 L290.25,3.80 L290.36,3.84 L290.48,3.89 L290.59,3.94 L290.72,3.99 L290.84,4.04 L290.98,4.09 L291.18,4.17 L291.40,4.24 L291.63,4.31 L291.86,4.37 L292.11,4.44 L292.36,4.51 L292.62,4.59 L292.88,4.66 L293.14,4.74 L293.41,4.81 L293.67,4.90 L293.93,4.99 L294.24,5.09 L294.55,5.20 L294.87,5.31 L295.20,5.43 L295.53,5.55 L295.86,5.67 L296.19,5.80 L296.52,5.93 L296.84,6.06 L297.16,6.20 L297.47,6.33 L297.77,6.47 L298.05,6.60 L298.31,6.73 L298.57,6.86 L298.83,6.99 L299.08,7.13 L299.33,7.26 L299.58,7.40 L299.83,7.55 L300.07,7.69 L300.32,7.84 L300.57,8.00 L300.83,8.15 L301.11,8.33 L301.39,8.51 L301.66,8.69 L301.94,8.87 L302.23,9.06 L302.51,9.26 L302.79,9.46 L303.07,9.66 L303.34,9.87 L303.62,10.08 L303.90,10.30 L304.18,10.53 L304.49,10.80 L304.79,11.08 L305.10,11.38 L305.41,11.69 L305.72,12.00 L306.02,12.32 L306.33,12.64 L306.63,12.95 L306.93,13.26 L307.23,13.55 L307.53,13.83 L307.82,14.09 L308.07,14.30 L308.32,14.50 L308.56,14.70 L308.81,14.88 L309.06,15.07 L309.30,15.24 L309.54,15.42 L309.78,15.59 L310.01,15.76 L310.24,15.93 L310.46,16.10 L310.68,16.27 L310.86,16.42 L311.03,16.56 L311.19,16.70 L311.35,16.84 L311.51,16.97 L311.66,17.11 L311.82,17.24 L311.98,17.38 L312.14,17.52 L312.30,17.66 L312.47,17.81 L312.65,17.96 L312.87,18.14 L313.11,18.32 L313.35,18.50 L313.60,18.68 L313.86,18.87 L314.11,19.06 L314.37,19.25 L314.63,19.45 L314.88,19.66 L315.13,19.87 L315.37,20.10 L315.60,20.33 L315.86,20.61 L316.11,20.90 L316.36,21.20 L316.60,21.51 L316.84,21.83 L317.07,22.15 L317.30,22.48 L317.54,22.82 L317.77,23.16 L318.00,23.51 L318.23,23.85 L318.46,24.19 L318.71,24.57 L318.96,24.95 L319.21,25.33 L319.46,25.72 L319.71,26.12 L319.96,26.52 L320.20,26.92 L320.45,27.32 L320.69,27.73 L320.94,28.13 L321.18,28.54 L321.42,28.95 L321.66,29.36 L321.90,29.78 L322.14,30.19 L322.38,30.61 L322.61,31.03 L322.85,31.45 L323.08,31.87 L323.32,32.30 L323.55,32.74 L323.79,33.18 L324.03,33.64 L324.27,34.10 L324.55,34.64 L324.84,35.19 L325.12,35.75 L325.40,36.32 L325.69,36.90 L325.97,37.48 L326.26,38.08 L326.55,38.67 L326.84,39.28 L327.13,39.89 L327.42,40.51 L327.72,41.13 L328.05,41.83 L328.39,42.54 L328.73,43.26 L329.07,43.99 L329.41,44.73 L329.75,45.48 L330.10,46.23 L330.45,46.98 L330.80,47.74 L331.15,48.50 L331.50,49.27 L331.86,50.04 L332.24,50.87 L332.64,51.72 L333.04,52.59 L333.45,53.47 L333.85,54.35 L334.26,55.23 L334.67,56.11 L335.07,56.97 L335.46,57.83 L335.85,58.66 L336.22,59.46 L336.59,60.24 L336.87,60.85 L337.16,61.45 L337.44,62.04 L337.71,62.63 L337.99,63.21 L338.25,63.77 L338.52,64.33 L338.77,64.87 L339.03,65.39 L339.27,65.90 L339.51,66.39 L339.74,66.87 L339.90,67.20 L340.06,67.52 L340.21,67.82 L340.35,68.10 L340.49,68.38 L340.63,68.66 L340.77,68.93 L340.91,69.21 L341.05,69.50 L341.20,69.80 L341.35,70.11 L341.51,70.44 L341.73,70.89 L341.96,71.37 L342.19,71.87 L342.43,72.39 L342.67,72.91 L342.92,73.45 L343.17,73.99 L343.43,74.53 L343.68,75.08 L343.94,75.62 L344.20,76.15 L344.47,76.67 L344.74,77.20 L345.01,77.73 L345.29,78.26 L345.56,78.79 L345.85,79.32 L346.13,79.85 L346.42,80.37 L346.71,80.90 L347.01,81.43 L347.30,81.96 L347.61,82.48 L347.91,83.01 L348.24,83.56 L348.57,84.11 L348.91,84.66 L349.25,85.21 L349.59,85.76 L349.94,86.31 L350.29,86.86 L350.64,87.41 L351.00,87.95 L351.35,88.49 L351.70,89.02 L352.05,89.55 L352.38,90.04 L352.71,90.53 L353.04,91.02 L353.37,91.50 L353.70,91.98 L354.04,92.45 L354.37,92.93 L354.71,93.40 L355.05,93.87 L355.39,94.34 L355.74,94.82 L356.09,95.29 L356.47,95.78 L356.87,96.29 L357.28,96.81 L357.70,97.34 L358.12,97.86 L358.54,98.38 L358.96,98.89 L359.36,99.38 L359.74,99.84 L360.10,100.27 L360.43,100.67 L360.72,101.03 L360.86,101.20 L360.99,101.36 L361.10,101.50 L361.21,101.63 L361.31,101.75 L361.41,101.87 L361.51,102.00 L361.61,102.12 L361.71,102.25 L361.83,102.39 L361.96,102.54 L362.10,102.71 L362.39,103.07 L362.71,103.48 L363.06,103.92 L363.43,104.39 L363.81,104.88 L364.22,105.39 L364.64,105.91 L365.07,106.43 L365.50,106.94 L365.94,107.43 L366.39,107.91 L366.83,108.36 L367.28,108.79 L367.75,109.21 L368.22,109.63 L368.71,110.03 L369.20,110.43 L369.70,110.83 L370.21,111.22 L370.72,111.60 L371.22,111.98 L371.73,112.36 L372.24,112.74 L372.74,113.11 L373.23,113.48 L373.71,113.84 L374.20,114.20 L374.69,114.55 L375.18,114.90 L375.68,115.25 L376.17,115.60 L376.66,115.94 L377.16,116.28 L377.65,116.61 L378.15,116.94 L378.65,117.27 L379.13,117.58 L379.62,117.90 L380.10,118.20 L380.58,118.50 L381.07,118.80 L381.55,119.10 L382.04,119.39 L382.53,119.68 L383.03,119.97 L383.53,120.26 L384.04,120.55 L384.56,120.83 L385.12,121.14 L385.70,121.45 L386.28,121.76 L386.86,122.06 L387.45,122.37 L388.05,122.67 L388.65,122.97 L389.25,123.26 L389.85,123.55 L390.45,123.84 L391.05,124.12 L391.65,124.40 L392.24,124.67 L392.83,124.93 L393.42,125.18 L394.01,125.44 L394.60,125.68 L395.19,125.93 L395.78,126.17 L396.37,126.41 L396.97,126.65 L397.56,126.89 L398.15,127.13 L398.74,127.37 L399.33,127.61 L399.92,127.85 L400.51,128.09 L401.10,128.34 L401.69,128.58 L402.28,128.81 L402.87,129.05 L403.46,129.28 L404.05,129.51 L404.65,129.73 L405.24,129.94 L405.84,130.14 L406.43,130.33 L407.02,130.52 L407.61,130.69 L408.20,130.86 L408.80,131.03 L409.40,131.19 L409.99,131.34 L410.58,131.50 L411.18,131.65 L411.76,131.81 L412.35,131.96 L412.93,132.12 L413.47,132.27 L414.01,132.42 L414.53,132.57 L415.04,132.71 L415.55,132.86 L416.07,133.00 L416.59,133.14 L417.12,133.29 L417.67,133.44 L418.23,133.59 L418.82,133.75 L419.43,133.90 L420.32,134.13 L421.25,134.37 L422.22,134.62 L423.23,134.88 L424.26,135.14 L425.32,135.40 L426.39,135.66 L427.47,135.92 L428.55,136.18 L429.63,136.42 L430.69,136.65 L431.74,136.88 L432.80,137.09 L433.86,137.29 L434.92,137.49 L435.98,137.68 L437.05,137.86 L438.12,138.04 L439.19,138.22 L440.27,138.39 L441.35,138.56 L442.44,138.72 L443.54,138.89 L444.65,139.05 L445.85,139.23 L447.06,139.40 L448.28,139.57 L449.52,139.74 L450.76,139.90 L452.00,140.06 L453.25,140.21 L454.50,140.37 L455.74,140.51 L456.98,140.66 L458.21,140.80 L459.43,140.93 L460.59,141.06 L461.75,141.18 L462.90,141.30 L464.05,141.41 L465.19,141.52 L466.33,141.62 L467.48,141.73 L468.62,141.83 L469.76,141.93 L470.91,142.03 L472.06,142.12 L473.22,142.22 L474.40,142.32 L475.58,142.42 L476.77,142.51 L477.96,142.60 L479.15,142.69 L480.34,142.78 L481.54,142.87 L482.73,142.96 L483.92,143.04 L485.12,143.13 L486.31,143.22 L487.50,143.31" fill="none" stroke="#000" stroke-width="1.4" stroke-dasharray="3.7 2.9" stroke-linejoin="round" />
<rect x="289.5" y="3.5" width="198.0" height="151.0" fill="none" stroke="#9a9a9a" stroke-width="1"/>
<path d="M329.10,154.5 v-2.0 M329.10,3.5 v2.0 M368.70,154.5 v-2.0 M368.70,3.5 v2.0 M408.30,154.5 v-2.0 M408.30,3.5 v2.0 M447.90,154.5 v-2.0 M447.90,3.5 v2.0 M289.5,124.30 h2.0 M487.5,124.30 h-2.0 M289.5,94.10 h2.0 M487.5,94.10 h-2.0 M289.5,63.90 h2.0 M487.5,63.90 h-2.0 M289.5,33.70 h2.0 M487.5,33.70 h-2.0" stroke="#888" stroke-width="0.8" fill="none"/>
<text x="289.50" y="164.6" font-size="9.4" text-anchor="middle" fill="#000" >0</text>
<text x="329.10" y="164.6" font-size="9.4" text-anchor="middle" fill="#000" >2</text>
<text x="368.70" y="164.6" font-size="9.4" text-anchor="middle" fill="#000" >4</text>
<text x="408.30" y="164.6" font-size="9.4" text-anchor="middle" fill="#000" >6</text>
<text x="447.90" y="164.6" font-size="9.4" text-anchor="middle" fill="#000" >8</text>
<text x="487.50" y="164.6" font-size="9.4" text-anchor="middle" fill="#000" >10</text>
<text x="287.4" y="157.80" font-size="9.4" text-anchor="end" fill="#000" >0</text>
<text x="287.4" y="127.60" font-size="9.4" text-anchor="end" fill="#000" >0.2</text>
<text x="287.4" y="97.40" font-size="9.4" text-anchor="end" fill="#000" >0.4</text>
<text x="287.4" y="67.20" font-size="9.4" text-anchor="end" fill="#000" >0.6</text>
<text x="287.4" y="37.00" font-size="9.4" text-anchor="end" fill="#000" >0.8</text>
<text x="287.4" y="6.80" font-size="9.4" text-anchor="end" fill="#000" >1</text>
<text transform="translate(388.5,177.4) scale(1,0.9)" font-size="10" text-anchor="middle" fill="#000" >Q (10<tspan dy="-4" font-size="7">6</tspan><tspan dy="4"> cm</tspan><tspan dy="-4" font-size="7">&#8722;1</tspan><tspan dy="4">)</tspan></text>
<text transform="translate(271,77.7) rotate(-90)" font-size="9.8" text-anchor="middle">Total phonon content</text>
<text x="304" y="137.3" font-size="12" text-anchor="start" fill="#000" >(b)</text>
<path d="M429.2,29.1 H456.2" stroke="#0000ff" stroke-width="1.3" fill="none"/>
<text transform="translate(458.90,31.60) scale(1.12,1.0)" font-size="9.6" style="font-family:'Liberation Serif',serif">&#969;</text>
<text x="465.60" y="35.70" font-size="6.5">1</text>
<path d="M429.2,54.1 H456.2" stroke="#ff0000" stroke-width="1.3" stroke-dasharray="4.2 1.9 0.8 1.9" fill="none"/>
<text transform="translate(458.90,56.60) scale(1.12,1.0)" font-size="9.6" style="font-family:'Liberation Serif',serif">&#969;</text>
<text x="465.60" y="60.70" font-size="6.5">2</text>
<path d="M429.2,79.3 H456.2" stroke="#1f8a30" stroke-width="1.8" stroke-dasharray="1 1.7" fill="none"/>
<text transform="translate(458.90,81.80) scale(1.12,1.0)" font-size="9.6" style="font-family:'Liberation Serif',serif">&#969;</text>
<text x="465.60" y="85.90" font-size="6.5">3</text>
<path d="M429.2,103.7 H456.2" stroke="#000" stroke-width="1.4" stroke-dasharray="3.7 2.9" fill="none"/>
<text transform="translate(458.90,106.20) scale(1.12,1.0)" font-size="9.6" style="font-family:'Liberation Serif',serif">&#969;</text>
<text x="465.60" y="110.30" font-size="6.5">4</text>
</g>
<g id="c">
<path d="M27.60,354.50 L27.72,354.45 L27.83,354.40 L27.95,354.36 L28.07,354.31 L28.19,354.27 L28.31,354.22 L28.42,354.17 L28.54,354.12 L28.66,354.07 L28.77,354.02 L28.89,353.96 L29.00,353.90 L29.12,353.83 L29.24,353.76 L29.35,353.68 L29.46,353.61 L29.58,353.53 L29.69,353.44 L29.80,353.36 L29.92,353.27 L30.03,353.18 L30.15,353.09 L30.28,353.00 L30.40,352.90 L30.56,352.78 L30.73,352.65 L30.91,352.51 L31.08,352.37 L31.26,352.23 L31.45,352.09 L31.63,351.94 L31.81,351.79 L31.99,351.64 L32.16,351.50 L32.33,351.35 L32.50,351.20 L32.65,351.06 L32.80,350.92 L32.95,350.79 L33.09,350.65 L33.23,350.51 L33.37,350.37 L33.51,350.23 L33.65,350.09 L33.79,349.94 L33.92,349.80 L34.06,349.65 L34.20,349.50 L34.34,349.34 L34.49,349.18 L34.63,349.02 L34.77,348.86 L34.92,348.69 L35.06,348.52 L35.20,348.35 L35.34,348.19 L35.48,348.01 L35.62,347.84 L35.76,347.67 L35.90,347.50 L36.04,347.32 L36.19,347.14 L36.34,346.96 L36.48,346.78 L36.63,346.59 L36.77,346.41 L36.92,346.23 L37.06,346.04 L37.20,345.86 L37.34,345.67 L37.47,345.48 L37.60,345.30 L37.72,345.13 L37.83,344.95 L37.95,344.78 L38.06,344.61 L38.16,344.44 L38.27,344.26 L38.37,344.09 L38.48,343.92 L38.58,343.74 L38.69,343.56 L38.79,343.38 L38.90,343.20 L39.02,343.00 L39.13,342.80 L39.25,342.60 L39.37,342.39 L39.49,342.18 L39.60,341.97 L39.72,341.76 L39.84,341.55 L39.95,341.34 L40.07,341.13 L40.18,340.91 L40.30,340.70 L40.42,340.48 L40.54,340.26 L40.66,340.03 L40.78,339.81 L40.90,339.58 L41.02,339.35 L41.14,339.12 L41.26,338.90 L41.37,338.67 L41.49,338.45 L41.60,338.22 L41.70,338.00 L41.79,337.80 L41.88,337.60 L41.97,337.40 L42.06,337.20 L42.14,337.00 L42.22,336.80 L42.30,336.60 L42.38,336.40 L42.46,336.21 L42.54,336.01 L42.62,335.80 L42.70,335.60 L42.78,335.39 L42.87,335.17 L42.95,334.96 L43.04,334.74 L43.12,334.52 L43.20,334.30 L43.28,334.09 L43.37,333.87 L43.45,333.65 L43.53,333.43 L43.62,333.22 L43.70,333.00 L43.78,332.79 L43.86,332.58 L43.94,332.37 L44.03,332.17 L44.11,331.96 L44.19,331.76 L44.27,331.55 L44.35,331.34 L44.44,331.14 L44.52,330.93 L44.61,330.71 L44.70,330.50 L44.80,330.27 L44.90,330.04 L45.01,329.81 L45.11,329.58 L45.22,329.35 L45.33,329.11 L45.44,328.88 L45.55,328.64 L45.66,328.39 L45.77,328.13 L45.89,327.87 L46.00,327.60 L46.15,327.23 L46.30,326.85 L46.45,326.45 L46.61,326.04 L46.76,325.62 L46.92,325.19 L47.08,324.76 L47.24,324.32 L47.40,323.89 L47.57,323.45 L47.73,323.02 L47.90,322.60 L48.08,322.17 L48.25,321.73 L48.44,321.30 L48.62,320.86 L48.81,320.43 L49.00,319.99 L49.18,319.55 L49.37,319.12 L49.56,318.68 L49.74,318.25 L49.92,317.82 L50.10,317.40 L50.27,317.00 L50.43,316.59 L50.60,316.18 L50.76,315.77 L50.93,315.36 L51.09,314.95 L51.25,314.55 L51.41,314.16 L51.56,313.77 L51.71,313.40 L51.86,313.04 L52.00,312.70 L52.10,312.46 L52.20,312.22 L52.29,311.99 L52.38,311.77 L52.47,311.56 L52.55,311.35 L52.64,311.14 L52.73,310.93 L52.82,310.72 L52.91,310.52 L53.00,310.31 L53.10,310.10 L53.20,309.89 L53.31,309.68 L53.41,309.46 L53.52,309.25 L53.63,309.04 L53.75,308.83 L53.86,308.63 L53.97,308.42 L54.08,308.21 L54.19,308.01 L54.30,307.80 L54.40,307.60 L54.50,307.41 L54.59,307.23 L54.68,307.04 L54.77,306.86 L54.86,306.68 L54.95,306.50 L55.04,306.32 L55.13,306.14 L55.22,305.96 L55.31,305.77 L55.40,305.59 L55.50,305.40 L55.60,305.20 L55.71,304.99 L55.81,304.79 L55.92,304.58 L56.03,304.37 L56.14,304.17 L56.25,303.96 L56.36,303.75 L56.47,303.54 L56.58,303.32 L56.69,303.11 L56.80,302.90 L56.91,302.68 L57.03,302.45 L57.14,302.22 L57.26,302.00 L57.37,301.77 L57.49,301.54 L57.61,301.31 L57.72,301.08 L57.84,300.85 L57.96,300.63 L58.08,300.41 L58.20,300.20 L58.31,300.01 L58.42,299.81 L58.53,299.62 L58.63,299.43 L58.74,299.25 L58.85,299.06 L58.96,298.88 L59.08,298.70 L59.20,298.52 L59.33,298.34 L59.46,298.17 L59.60,298.00 L59.76,297.82 L59.93,297.64 L60.11,297.46 L60.30,297.28 L60.49,297.11 L60.69,296.94 L60.88,296.77 L61.09,296.61 L61.29,296.45 L61.49,296.30 L61.70,296.15 L61.90,296.00 L62.09,295.86 L62.28,295.73 L62.48,295.59 L62.67,295.46 L62.87,295.34 L63.06,295.21 L63.26,295.09 L63.46,294.98 L63.67,294.87 L63.87,294.78 L64.08,294.68 L64.30,294.60 L64.53,294.52 L64.76,294.45 L65.00,294.39 L65.24,294.33 L65.49,294.28 L65.73,294.23 L65.98,294.19 L66.23,294.16 L66.48,294.14 L66.72,294.12 L66.96,294.11 L67.20,294.10 L67.42,294.10 L67.64,294.11 L67.86,294.12 L68.08,294.14 L68.30,294.17 L68.52,294.20 L68.74,294.24 L68.95,294.28 L69.17,294.33 L69.38,294.38 L69.59,294.44 L69.80,294.50 L70.01,294.57 L70.21,294.64 L70.41,294.72 L70.62,294.80 L70.81,294.89 L71.01,294.98 L71.21,295.07 L71.41,295.17 L71.61,295.28 L71.80,295.38 L72.00,295.49 L72.20,295.60 L72.42,295.72 L72.64,295.85 L72.86,295.98 L73.08,296.12 L73.30,296.26 L73.52,296.41 L73.74,296.56 L73.96,296.70 L74.18,296.85 L74.39,297.00 L74.60,297.15 L74.80,297.30 L74.99,297.44 L75.17,297.58 L75.35,297.72 L75.52,297.86 L75.70,298.00 L75.87,298.14 L76.04,298.29 L76.21,298.43 L76.38,298.57 L76.55,298.72 L76.73,298.86 L76.90,299.00 L77.08,299.14 L77.25,299.28 L77.43,299.42 L77.60,299.56 L77.78,299.70 L77.95,299.85 L78.13,299.99 L78.30,300.13 L78.48,300.27 L78.65,300.41 L78.83,300.56 L79.00,300.70 L79.17,300.84 L79.35,300.99 L79.52,301.12 L79.68,301.26 L79.85,301.40 L80.02,301.54 L80.19,301.69 L80.36,301.83 L80.54,301.99 L80.72,302.15 L80.91,302.32 L81.10,302.50 L81.38,302.77 L81.68,303.07 L81.99,303.38 L82.30,303.70 L82.62,304.04 L82.95,304.38 L83.28,304.73 L83.61,305.09 L83.94,305.45 L84.27,305.80 L84.59,306.15 L84.90,306.50 L85.21,306.84 L85.51,307.19 L85.81,307.54 L86.10,307.89 L86.40,308.25 L86.69,308.60 L86.99,308.96 L87.28,309.31 L87.58,309.66 L87.88,310.01 L88.19,310.36 L88.50,310.70 L88.82,311.04 L89.14,311.39 L89.46,311.73 L89.79,312.06 L90.12,312.40 L90.45,312.74 L90.78,313.07 L91.12,313.40 L91.46,313.73 L91.80,314.06 L92.15,314.38 L92.50,314.70 L92.86,315.02 L93.23,315.34 L93.60,315.66 L93.98,315.97 L94.36,316.28 L94.75,316.59 L95.13,316.90 L95.51,317.20 L95.89,317.51 L96.27,317.81 L96.64,318.10 L97.00,318.40 L97.33,318.67 L97.65,318.93 L97.97,319.19 L98.29,319.45 L98.60,319.71 L98.91,319.97 L99.22,320.22 L99.54,320.47 L99.85,320.73 L100.16,320.98 L100.48,321.24 L100.80,321.50 L101.13,321.77 L101.45,322.03 L101.78,322.30 L102.11,322.57 L102.43,322.84 L102.76,323.11 L103.09,323.38 L103.42,323.65 L103.76,323.91 L104.10,324.18 L104.45,324.44 L104.80,324.70 L105.18,324.97 L105.57,325.25 L105.96,325.52 L106.36,325.79 L106.76,326.06 L107.16,326.33 L107.57,326.60 L107.97,326.86 L108.38,327.12 L108.79,327.38 L109.20,327.64 L109.60,327.90 L110.00,328.15 L110.39,328.40 L110.78,328.65 L111.17,328.90 L111.57,329.15 L111.96,329.40 L112.36,329.64 L112.76,329.88 L113.16,330.12 L113.57,330.35 L113.98,330.58 L114.40,330.80 L114.85,331.03 L115.30,331.25 L115.76,331.48 L116.22,331.69 L116.69,331.91 L117.16,332.12 L117.63,332.33 L118.10,332.53 L118.58,332.73 L119.05,332.92 L119.53,333.11 L120.00,333.30 L120.46,333.48 L120.93,333.65 L121.40,333.82 L121.87,333.98 L122.35,334.15 L122.82,334.30 L123.29,334.46 L123.76,334.61 L124.23,334.76 L124.69,334.91 L125.15,335.05 L125.60,335.20 L126.01,335.33 L126.41,335.46 L126.79,335.59 L127.18,335.71 L127.56,335.84 L127.94,335.96 L128.33,336.08 L128.72,336.20 L129.12,336.32 L129.53,336.45 L129.96,336.57 L130.40,336.70 L131.00,336.87 L131.62,337.04 L132.26,337.21 L132.92,337.39 L133.59,337.56 L134.27,337.74 L134.97,337.92 L135.67,338.10 L136.38,338.27 L137.09,338.45 L137.79,338.63 L138.50,338.80 L139.26,338.99 L140.03,339.18 L140.81,339.37 L141.60,339.56 L142.39,339.75 L143.18,339.94 L143.98,340.13 L144.78,340.32 L145.58,340.50 L146.39,340.67 L147.19,340.84 L148.00,341.00 L148.82,341.16 L149.65,341.31 L150.48,341.45 L151.31,341.59 L152.14,341.73 L152.98,341.86 L153.82,341.99 L154.65,342.11 L155.49,342.24 L156.33,342.36 L157.16,342.48 L158.00,342.60 L158.83,342.72 L159.67,342.84 L160.50,342.95 L161.33,343.07 L162.16,343.18 L163.00,343.29 L163.83,343.39 L164.66,343.50 L165.50,343.60 L166.33,343.70 L167.17,343.80 L168.00,343.90 L168.83,343.99 L169.67,344.09 L170.50,344.17 L171.33,344.26 L172.17,344.34 L173.00,344.42 L173.83,344.51 L174.67,344.59 L175.50,344.66 L176.33,344.74 L177.17,344.82 L178.00,344.90 L178.83,344.98 L179.66,345.06 L180.48,345.14 L181.30,345.21 L182.12,345.29 L182.94,345.37 L183.77,345.44 L184.60,345.52 L185.44,345.59 L186.28,345.66 L187.13,345.73 L188.00,345.80 L188.96,345.87 L189.93,345.95 L190.90,346.02 L191.88,346.09 L192.87,346.15 L193.87,346.22 L194.88,346.29 L195.89,346.35 L196.91,346.41 L197.93,346.48 L198.96,346.54 L200.00,346.60 L201.13,346.66 L202.27,346.73 L203.42,346.79 L204.58,346.85 L205.74,346.91 L206.92,346.97 L208.09,347.02 L209.27,347.08 L210.46,347.14 L211.64,347.19 L212.82,347.25 L214.00,347.30 L215.20,347.35 L216.40,347.41 L217.61,347.46 L218.81,347.51 L220.02,347.56 L221.23,347.61 L222.45,347.66 L223.66,347.70 L224.87,347.75 L226.08,347.80 L227.29,347.85 L228.50,347.90" fill="none" stroke="#b440c0" stroke-width="1.9" stroke-dasharray="1 1.7" stroke-linejoin="round" />
<path d="M27.60,354.50 L27.71,354.45 L27.83,354.40 L27.94,354.35 L28.05,354.30 L28.15,354.25 L28.26,354.20 L28.38,354.15 L28.49,354.10 L28.61,354.05 L28.73,354.00 L28.86,353.95 L29.00,353.90 L29.21,353.83 L29.43,353.76 L29.66,353.69 L29.90,353.62 L30.15,353.55 L30.41,353.48 L30.67,353.40 L30.93,353.33 L31.20,353.25 L31.47,353.17 L31.73,353.09 L32.00,353.00 L32.31,352.89 L32.63,352.78 L32.96,352.67 L33.29,352.55 L33.62,352.43 L33.96,352.30 L34.29,352.18 L34.62,352.05 L34.95,351.91 L35.28,351.78 L35.59,351.64 L35.90,351.50 L36.17,351.37 L36.44,351.24 L36.71,351.11 L36.97,350.97 L37.22,350.84 L37.48,350.70 L37.73,350.56 L37.98,350.41 L38.23,350.27 L38.49,350.12 L38.74,349.96 L39.00,349.80 L39.28,349.62 L39.57,349.44 L39.85,349.26 L40.13,349.07 L40.42,348.88 L40.70,348.69 L40.99,348.49 L41.27,348.28 L41.55,348.07 L41.84,347.85 L42.12,347.63 L42.40,347.40 L42.71,347.13 L43.03,346.84 L43.34,346.54 L43.65,346.23 L43.96,345.92 L44.27,345.59 L44.58,345.27 L44.89,344.96 L45.20,344.65 L45.50,344.35 L45.80,344.07 L46.10,343.80 L46.35,343.59 L46.60,343.39 L46.85,343.19 L47.10,343.00 L47.35,342.82 L47.60,342.64 L47.84,342.46 L48.08,342.29 L48.32,342.12 L48.55,341.95 L48.78,341.77 L49.00,341.60 L49.18,341.45 L49.35,341.31 L49.52,341.17 L49.68,341.03 L49.84,340.89 L50.00,340.76 L50.16,340.62 L50.32,340.48 L50.48,340.34 L50.65,340.20 L50.82,340.05 L51.00,339.90 L51.23,339.72 L51.47,339.53 L51.71,339.35 L51.97,339.17 L52.23,338.98 L52.49,338.79 L52.75,338.59 L53.01,338.39 L53.26,338.18 L53.52,337.96 L53.76,337.74 L54.00,337.50 L54.26,337.22 L54.51,336.93 L54.76,336.63 L55.01,336.31 L55.25,335.99 L55.49,335.66 L55.73,335.33 L55.96,334.99 L56.19,334.64 L56.43,334.30 L56.66,333.95 L56.90,333.60 L57.16,333.22 L57.41,332.84 L57.66,332.45 L57.92,332.06 L58.17,331.66 L58.42,331.26 L58.67,330.85 L58.92,330.44 L59.17,330.03 L59.41,329.62 L59.66,329.21 L59.90,328.80 L60.15,328.38 L60.39,327.96 L60.63,327.54 L60.88,327.12 L61.11,326.70 L61.35,326.27 L61.59,325.84 L61.83,325.41 L62.07,324.97 L62.31,324.52 L62.55,324.07 L62.80,323.60 L63.09,323.05 L63.37,322.50 L63.66,321.93 L63.95,321.35 L64.23,320.77 L64.52,320.18 L64.82,319.58 L65.11,318.98 L65.40,318.36 L65.70,317.75 L66.00,317.13 L66.30,316.50 L66.64,315.79 L66.98,315.07 L67.32,314.34 L67.67,313.60 L68.01,312.86 L68.36,312.11 L68.72,311.35 L69.07,310.59 L69.42,309.82 L69.78,309.05 L70.14,308.27 L70.50,307.50 L70.89,306.66 L71.29,305.80 L71.70,304.92 L72.11,304.04 L72.52,303.15 L72.94,302.25 L73.35,301.37 L73.76,300.49 L74.16,299.63 L74.55,298.80 L74.93,297.98 L75.30,297.20 L75.59,296.58 L75.88,295.98 L76.16,295.37 L76.44,294.78 L76.72,294.20 L76.99,293.63 L77.26,293.07 L77.52,292.53 L77.78,291.99 L78.02,291.48 L78.27,290.98 L78.50,290.50 L78.67,290.16 L78.82,289.85 L78.97,289.54 L79.12,289.25 L79.26,288.97 L79.40,288.69 L79.54,288.42 L79.69,288.13 L79.83,287.85 L79.98,287.55 L80.14,287.23 L80.30,286.90 L80.52,286.44 L80.75,285.95 L80.99,285.45 L81.23,284.93 L81.48,284.40 L81.73,283.86 L81.98,283.31 L82.24,282.76 L82.50,282.21 L82.77,281.67 L83.03,281.13 L83.30,280.60 L83.57,280.07 L83.85,279.53 L84.13,279.00 L84.41,278.46 L84.70,277.93 L84.99,277.40 L85.28,276.86 L85.58,276.33 L85.88,275.80 L86.18,275.26 L86.49,274.73 L86.80,274.20 L87.13,273.65 L87.46,273.09 L87.81,272.54 L88.15,271.98 L88.50,271.42 L88.86,270.87 L89.21,270.31 L89.57,269.76 L89.93,269.21 L90.29,268.67 L90.64,268.13 L91.00,267.60 L91.34,267.10 L91.67,266.60 L92.01,266.11 L92.34,265.63 L92.68,265.14 L93.01,264.66 L93.35,264.18 L93.69,263.71 L94.04,263.23 L94.39,262.75 L94.74,262.28 L95.10,261.80 L95.48,261.30 L95.89,260.78 L96.30,260.26 L96.73,259.73 L97.16,259.20 L97.59,258.67 L98.01,258.16 L98.42,257.67 L98.81,257.20 L99.17,256.76 L99.50,256.36 L99.80,256.00 L99.94,255.83 L100.07,255.67 L100.19,255.53 L100.30,255.39 L100.40,255.27 L100.50,255.15 L100.60,255.03 L100.70,254.90 L100.81,254.77 L100.93,254.63 L101.06,254.47 L101.20,254.30 L101.50,253.94 L101.82,253.53 L102.17,253.09 L102.55,252.61 L102.94,252.11 L103.35,251.60 L103.78,251.08 L104.21,250.55 L104.66,250.04 L105.10,249.53 L105.55,249.05 L106.00,248.60 L106.46,248.16 L106.93,247.74 L107.42,247.32 L107.91,246.91 L108.41,246.50 L108.92,246.11 L109.43,245.71 L109.95,245.33 L110.46,244.94 L110.98,244.56 L111.49,244.18 L112.00,243.80 L112.49,243.43 L112.99,243.07 L113.49,242.70 L113.98,242.35 L114.48,241.99 L114.98,241.64 L115.48,241.29 L115.98,240.94 L116.49,240.60 L116.99,240.26 L117.49,239.93 L118.00,239.60 L118.49,239.28 L118.98,238.97 L119.47,238.66 L119.96,238.35 L120.46,238.05 L120.95,237.75 L121.44,237.46 L121.94,237.16 L122.45,236.87 L122.96,236.58 L123.48,236.29 L124.00,236.00 L124.57,235.69 L125.15,235.38 L125.74,235.07 L126.34,234.76 L126.94,234.45 L127.54,234.15 L128.15,233.85 L128.76,233.55 L129.37,233.25 L129.98,232.96 L130.59,232.68 L131.20,232.40 L131.80,232.13 L132.39,231.87 L132.99,231.61 L133.59,231.35 L134.19,231.10 L134.79,230.85 L135.39,230.61 L135.99,230.37 L136.59,230.12 L137.20,229.88 L137.80,229.64 L138.40,229.40 L139.00,229.16 L139.60,228.91 L140.19,228.67 L140.79,228.42 L141.39,228.18 L141.99,227.94 L142.59,227.70 L143.19,227.47 L143.79,227.24 L144.39,227.02 L145.00,226.81 L145.60,226.60 L146.20,226.41 L146.80,226.22 L147.40,226.04 L148.00,225.87 L148.61,225.71 L149.21,225.55 L149.82,225.39 L150.42,225.23 L151.02,225.07 L151.62,224.92 L152.21,224.76 L152.80,224.60 L153.35,224.45 L153.89,224.30 L154.42,224.15 L154.94,224.00 L155.46,223.86 L155.98,223.71 L156.51,223.57 L157.05,223.42 L157.61,223.27 L158.18,223.12 L158.78,222.96 L159.40,222.80 L160.30,222.57 L161.25,222.33 L162.24,222.07 L163.26,221.81 L164.31,221.55 L165.38,221.29 L166.46,221.02 L167.56,220.76 L168.65,220.51 L169.75,220.26 L170.83,220.02 L171.90,219.80 L172.97,219.59 L174.05,219.38 L175.13,219.18 L176.20,218.99 L177.28,218.80 L178.37,218.62 L179.46,218.44 L180.55,218.27 L181.65,218.10 L182.76,217.93 L183.87,217.77 L185.00,217.60 L186.21,217.42 L187.44,217.25 L188.69,217.08 L189.94,216.91 L191.20,216.75 L192.46,216.59 L193.73,216.43 L195.00,216.27 L196.26,216.12 L197.52,215.98 L198.76,215.84 L200.00,215.70 L201.18,215.57 L202.36,215.45 L203.53,215.33 L204.69,215.22 L205.85,215.11 L207.01,215.00 L208.17,214.90 L209.33,214.80 L210.49,214.70 L211.66,214.60 L212.83,214.50 L214.00,214.40 L215.20,214.30 L216.40,214.20 L217.61,214.11 L218.81,214.02 L220.02,213.93 L221.23,213.84 L222.44,213.75 L223.66,213.66 L224.87,213.57 L226.08,213.48 L227.29,213.39 L228.50,213.30" fill="none" stroke="#000" stroke-width="1.4" stroke-dasharray="3.7 2.9" stroke-linejoin="round" />
<path d="M27.60,354.50 L27.65,353.89 L27.70,353.30 L27.74,352.72 L27.79,352.15 L27.84,351.58 L27.88,351.00 L27.93,350.41 L27.98,349.80 L28.03,349.17 L28.08,348.52 L28.14,347.83 L28.20,347.10 L28.30,345.89 L28.41,344.57 L28.53,343.17 L28.65,341.70 L28.77,340.18 L28.90,338.62 L29.04,337.04 L29.17,335.46 L29.31,333.89 L29.44,332.34 L29.57,330.84 L29.70,329.40 L29.82,328.11 L29.93,326.83 L30.04,325.54 L30.16,324.26 L30.27,322.98 L30.39,321.72 L30.50,320.48 L30.62,319.26 L30.74,318.07 L30.86,316.91 L30.98,315.79 L31.10,314.70 L31.20,313.89 L31.29,313.10 L31.39,312.33 L31.49,311.57 L31.59,310.84 L31.69,310.11 L31.79,309.40 L31.89,308.70 L31.99,308.02 L32.09,307.34 L32.20,306.67 L32.30,306.00 L32.39,305.45 L32.48,304.92 L32.57,304.41 L32.66,303.90 L32.75,303.41 L32.84,302.92 L32.93,302.42 L33.02,301.93 L33.12,301.42 L33.21,300.90 L33.30,300.36 L33.40,299.80 L33.52,299.08 L33.64,298.33 L33.76,297.55 L33.88,296.76 L34.00,295.95 L34.13,295.14 L34.25,294.31 L34.38,293.49 L34.51,292.68 L34.64,291.87 L34.77,291.07 L34.90,290.30 L35.02,289.59 L35.15,288.87 L35.27,288.17 L35.40,287.46 L35.52,286.77 L35.65,286.07 L35.78,285.38 L35.91,284.69 L36.05,284.01 L36.19,283.34 L36.34,282.67 L36.50,282.00 L36.65,281.37 L36.80,280.74 L36.95,280.10 L37.11,279.46 L37.27,278.83 L37.43,278.20 L37.60,277.59 L37.78,276.99 L37.97,276.41 L38.17,275.85 L38.38,275.31 L38.60,274.80 L38.79,274.41 L38.98,274.02 L39.19,273.63 L39.40,273.26 L39.61,272.89 L39.83,272.54 L40.06,272.20 L40.28,271.89 L40.51,271.60 L40.74,271.33 L40.97,271.10 L41.20,270.90 L41.35,270.79 L41.49,270.69 L41.64,270.60 L41.80,270.52 L41.95,270.45 L42.10,270.39 L42.25,270.34 L42.40,270.29 L42.55,270.26 L42.70,270.23 L42.85,270.21 L43.00,270.20 L43.14,270.19 L43.27,270.19 L43.40,270.20 L43.54,270.21 L43.67,270.23 L43.80,270.26 L43.94,270.30 L44.07,270.34 L44.20,270.39 L44.33,270.45 L44.47,270.52 L44.60,270.60 L44.80,270.74 L45.00,270.91 L45.20,271.10 L45.41,271.31 L45.61,271.54 L45.81,271.79 L46.01,272.05 L46.21,272.32 L46.41,272.61 L46.61,272.90 L46.80,273.20 L47.00,273.50 L47.27,273.93 L47.53,274.38 L47.80,274.86 L48.06,275.36 L48.32,275.88 L48.58,276.42 L48.84,276.96 L49.09,277.52 L49.35,278.09 L49.60,278.66 L49.85,279.23 L50.10,279.80 L50.38,280.45 L50.65,281.12 L50.92,281.80 L51.18,282.49 L51.44,283.18 L51.70,283.89 L51.96,284.60 L52.22,285.32 L52.49,286.04 L52.75,286.76 L53.02,287.48 L53.30,288.20 L53.60,288.96 L53.89,289.73 L54.19,290.50 L54.50,291.28 L54.80,292.05 L55.11,292.84 L55.42,293.62 L55.73,294.40 L56.04,295.18 L56.36,295.96 L56.68,296.73 L57.00,297.50 L57.32,298.26 L57.64,299.02 L57.97,299.77 L58.30,300.53 L58.63,301.28 L58.96,302.03 L59.30,302.78 L59.64,303.53 L59.97,304.27 L60.31,305.02 L60.66,305.76 L61.00,306.50 L61.34,307.23 L61.68,307.97 L62.03,308.71 L62.37,309.45 L62.72,310.18 L63.07,310.92 L63.43,311.64 L63.78,312.36 L64.13,313.07 L64.49,313.76 L64.84,314.44 L65.20,315.10 L65.51,315.66 L65.82,316.21 L66.13,316.75 L66.44,317.29 L66.75,317.81 L67.06,318.33 L67.38,318.84 L67.70,319.34 L68.02,319.84 L68.34,320.33 L68.67,320.82 L69.00,321.30 L69.31,321.75 L69.62,322.19 L69.92,322.61 L70.22,323.03 L70.52,323.45 L70.83,323.86 L71.15,324.27 L71.48,324.68 L71.83,325.10 L72.20,325.52 L72.59,325.96 L73.00,326.40 L73.61,327.03 L74.25,327.68 L74.94,328.35 L75.65,329.04 L76.40,329.73 L77.17,330.43 L77.96,331.12 L78.77,331.80 L79.59,332.47 L80.43,333.11 L81.26,333.72 L82.10,334.30 L82.96,334.86 L83.84,335.40 L84.73,335.93 L85.63,336.44 L86.55,336.93 L87.48,337.40 L88.42,337.86 L89.38,338.30 L90.34,338.72 L91.32,339.13 L92.30,339.52 L93.30,339.90 L94.38,340.28 L95.50,340.64 L96.65,340.98 L97.83,341.30 L99.01,341.60 L100.20,341.88 L101.38,342.15 L102.55,342.41 L103.70,342.65 L104.81,342.87 L105.88,343.09 L106.90,343.30 L107.64,343.45 L108.33,343.58 L109.00,343.69 L109.65,343.80 L110.28,343.90 L110.91,343.99 L111.53,344.08 L112.17,344.17 L112.83,344.27 L113.52,344.37 L114.24,344.48 L115.00,344.60 L116.12,344.79 L117.29,344.99 L118.49,345.21 L119.73,345.43 L121.00,345.67 L122.31,345.90 L123.66,346.14 L125.04,346.37 L126.46,346.60 L127.91,346.81 L129.39,347.01 L130.90,347.20 L133.01,347.43 L135.23,347.65 L137.54,347.85 L139.93,348.03 L142.37,348.21 L144.87,348.38 L147.39,348.53 L149.94,348.68 L152.48,348.82 L155.02,348.95 L157.53,349.08 L160.00,349.20 L162.47,349.32 L164.93,349.42 L167.38,349.52 L169.83,349.60 L172.28,349.68 L174.74,349.75 L177.21,349.81 L179.70,349.87 L182.23,349.93 L184.78,349.99 L187.37,350.04 L190.00,350.10 L193.04,350.16 L196.14,350.22 L199.29,350.26 L202.48,350.31 L205.70,350.35 L208.95,350.38 L212.22,350.42 L215.49,350.45 L218.76,350.49 L222.03,350.52 L225.28,350.56 L228.50,350.60" fill="none" stroke="#ff0000" stroke-width="1.3" stroke-dasharray="4.2 1.9 0.8 1.9" stroke-linejoin="round" />
<path d="M27.60,202.30 L27.76,203.77 L27.92,205.25 L28.07,206.72 L28.23,208.19 L28.39,209.67 L28.54,211.14 L28.70,212.61 L28.86,214.09 L29.02,215.56 L29.18,217.04 L29.34,218.52 L29.50,220.00 L29.66,221.49 L29.83,222.96 L30.00,224.43 L30.17,225.89 L30.34,227.36 L30.51,228.83 L30.68,230.31 L30.85,231.80 L31.02,233.31 L31.18,234.85 L31.34,236.41 L31.50,238.00 L31.68,239.92 L31.86,241.93 L32.03,244.03 L32.20,246.17 L32.37,248.34 L32.54,250.51 L32.70,252.64 L32.86,254.73 L33.03,256.73 L33.19,258.63 L33.34,260.39 L33.50,262.00 L33.59,262.90 L33.69,263.75 L33.77,264.56 L33.86,265.33 L33.95,266.06 L34.04,266.78 L34.12,267.48 L34.21,268.17 L34.31,268.86 L34.40,269.56 L34.50,270.27 L34.60,271.00 L34.71,271.74 L34.81,272.48 L34.93,273.21 L35.04,273.95 L35.15,274.69 L35.27,275.42 L35.39,276.15 L35.51,276.89 L35.63,277.62 L35.76,278.35 L35.88,279.07 L36.00,279.80 L36.12,280.50 L36.24,281.20 L36.36,281.88 L36.48,282.56 L36.60,283.24 L36.73,283.92 L36.85,284.61 L36.98,285.30 L37.10,286.00 L37.23,286.72 L37.37,287.45 L37.50,288.20 L37.66,289.12 L37.82,290.06 L37.98,291.03 L38.15,292.02 L38.32,293.02 L38.49,294.03 L38.66,295.04 L38.84,296.06 L39.02,297.07 L39.21,298.06 L39.40,299.04 L39.60,300.00 L39.80,300.89 L40.00,301.79 L40.21,302.69 L40.42,303.59 L40.64,304.48 L40.87,305.37 L41.09,306.24 L41.31,307.09 L41.54,307.93 L41.76,308.75 L41.98,309.54 L42.20,310.30 L42.37,310.88 L42.53,311.43 L42.69,311.97 L42.85,312.50 L43.01,313.02 L43.17,313.53 L43.33,314.03 L43.50,314.52 L43.67,315.02 L43.84,315.51 L44.02,316.00 L44.20,316.50 L44.38,316.98 L44.57,317.46 L44.75,317.94 L44.94,318.42 L45.14,318.89 L45.33,319.36 L45.53,319.82 L45.74,320.29 L45.95,320.75 L46.16,321.20 L46.38,321.65 L46.60,322.10 L46.82,322.53 L47.05,322.95 L47.28,323.38 L47.51,323.80 L47.75,324.21 L47.99,324.63 L48.24,325.04 L48.49,325.44 L48.74,325.84 L48.99,326.23 L49.24,326.62 L49.50,327.00 L49.73,327.35 L49.97,327.68 L50.19,328.02 L50.42,328.34 L50.65,328.66 L50.89,328.98 L51.13,329.30 L51.38,329.61 L51.64,329.93 L51.91,330.25 L52.20,330.57 L52.50,330.90 L52.91,331.32 L53.34,331.76 L53.80,332.21 L54.28,332.66 L54.77,333.11 L55.28,333.56 L55.80,334.00 L56.32,334.44 L56.85,334.86 L57.37,335.26 L57.89,335.64 L58.40,336.00 L58.86,336.30 L59.31,336.58 L59.77,336.85 L60.24,337.10 L60.70,337.34 L61.16,337.57 L61.63,337.80 L62.10,338.02 L62.57,338.24 L63.05,338.46 L63.52,338.68 L64.00,338.90 L64.49,339.13 L64.97,339.36 L65.46,339.58 L65.95,339.81 L66.44,340.02 L66.93,340.24 L67.43,340.46 L67.93,340.67 L68.43,340.88 L68.95,341.09 L69.47,341.30 L70.00,341.50 L70.59,341.72 L71.17,341.94 L71.76,342.16 L72.35,342.37 L72.95,342.59 L73.56,342.79 L74.18,343.00 L74.81,343.20 L75.47,343.41 L76.15,343.61 L76.86,343.80 L77.60,344.00 L78.70,344.28 L79.85,344.55 L81.05,344.83 L82.30,345.10 L83.59,345.37 L84.92,345.63 L86.27,345.88 L87.65,346.13 L89.05,346.36 L90.46,346.59 L91.88,346.80 L93.30,347.00 L94.99,347.21 L96.74,347.40 L98.55,347.58 L100.39,347.74 L102.25,347.88 L104.13,348.02 L106.01,348.14 L107.88,348.26 L109.72,348.37 L111.53,348.48 L113.30,348.59 L115.00,348.70 L116.40,348.79 L117.75,348.88 L119.06,348.96 L120.34,349.04 L121.60,349.12 L122.86,349.19 L124.12,349.26 L125.41,349.33 L126.72,349.40 L128.09,349.46 L129.51,349.53 L131.00,349.60 L133.12,349.69 L135.33,349.79 L137.64,349.88 L140.01,349.97 L142.45,350.06 L144.93,350.15 L147.45,350.23 L149.98,350.31 L152.51,350.39 L155.04,350.47 L157.54,350.54 L160.00,350.60 L162.47,350.66 L164.93,350.72 L167.38,350.76 L169.82,350.81 L172.27,350.85 L174.73,350.89 L177.21,350.93 L179.70,350.96 L182.23,351.00 L184.78,351.03 L187.37,351.06 L190.00,351.10 L193.04,351.14 L196.14,351.18 L199.29,351.21 L202.48,351.25 L205.70,351.28 L208.95,351.31 L212.22,351.34 L215.49,351.37 L218.76,351.40 L222.03,351.44 L225.28,351.47 L228.50,351.50" fill="none" stroke="#0000ff" stroke-width="1.35" stroke-linejoin="round" />
<rect x="27.5" y="202" width="201.0" height="152.5" fill="none" stroke="#9a9a9a" stroke-width="1"/>
<path d="M67.70,354.5 v-2.0 M67.70,202 v2.0 M107.90,354.5 v-2.0 M107.90,202 v2.0 M148.10,354.5 v-2.0 M148.10,202 v2.0 M188.30,354.5 v-2.0 M188.30,202 v2.0 M27.5,324.00 h2.0 M228.5,324.00 h-2.0 M27.5,293.50 h2.0 M228.5,293.50 h-2.0 M27.5,263.00 h2.0 M228.5,263.00 h-2.0 M27.5,232.50 h2.0 M228.5,232.50 h-2.0" stroke="#888" stroke-width="0.8" fill="none"/>
<text x="27.50" y="365.3" font-size="9.4" text-anchor="middle" fill="#000" >0</text>
<text x="67.70" y="365.3" font-size="9.4" text-anchor="middle" fill="#000" >2</text>
<text x="107.90" y="365.3" font-size="9.4" text-anchor="middle" fill="#000" >4</text>
<text x="148.10" y="365.3" font-size="9.4" text-anchor="middle" fill="#000" >6</text>
<text x="188.30" y="365.3" font-size="9.4" text-anchor="middle" fill="#000" >8</text>
<text x="228.50" y="365.3" font-size="9.4" text-anchor="middle" fill="#000" >10</text>
<text x="25.8" y="357.80" font-size="9.4" text-anchor="end" fill="#000" >0</text>
<text x="25.8" y="327.30" font-size="9.4" text-anchor="end" fill="#000" >0.2</text>
<text x="25.8" y="296.80" font-size="9.4" text-anchor="end" fill="#000" >0.4</text>
<text x="25.8" y="266.30" font-size="9.4" text-anchor="end" fill="#000" >0.6</text>
<text x="25.8" y="235.80" font-size="9.4" text-anchor="end" fill="#000" >0.8</text>
<text x="25.8" y="205.30" font-size="9.4" text-anchor="end" fill="#000" >1</text>
<text transform="translate(128,378.2) scale(1,0.9)" font-size="10" text-anchor="middle" fill="#000" >Q (10<tspan dy="-4" font-size="7">6</tspan><tspan dy="4"> cm</tspan><tspan dy="-4" font-size="7">&#8722;1</tspan><tspan dy="4">)</tspan></text>
<text transform="translate(7.7,277.3) rotate(-90)" font-size="10" text-anchor="middle">Plasmon content</text>
<text x="36.8" y="218.9" font-size="12" text-anchor="start" fill="#000" >(c)</text>
<path d="M174,241.4 H197.6" stroke="#0000ff" stroke-width="1.3" fill="none"/>
<text transform="translate(200.40,243.90) scale(1.12,1.0)" font-size="9.6" style="font-family:'Liberation Serif',serif">&#969;</text>
<text x="207.10" y="248.00" font-size="6.5">1</text>
<path d="M174,266.6 H197.6" stroke="#ff0000" stroke-width="1.3" stroke-dasharray="4.2 1.9 0.8 1.9" fill="none"/>
<text transform="translate(200.40,269.10) scale(1.12,1.0)" font-size="9.6" style="font-family:'Liberation Serif',serif">&#969;</text>
<text x="207.10" y="273.20" font-size="6.5">2</text>
<path d="M174,292.4 H197.6" stroke="#b440c0" stroke-width="1.9" stroke-dasharray="1 1.7" fill="none"/>
<text transform="translate(200.40,294.90) scale(1.12,1.0)" font-size="9.6" style="font-family:'Liberation Serif',serif">&#969;</text>
<text x="207.10" y="299.00" font-size="6.5">3</text>
<path d="M174,317.3 H197.6" stroke="#000" stroke-width="1.4" stroke-dasharray="3.7 2.9" fill="none"/>
<text transform="translate(200.40,319.80) scale(1.12,1.0)" font-size="9.6" style="font-family:'Liberation Serif',serif">&#969;</text>
<text x="207.10" y="323.90" font-size="6.5">4</text>
</g>
<g id="d">
<path d="M300.70,220.00 L300.69,222.53 L300.68,225.12 L300.67,227.74 L300.66,230.38 L300.65,233.02 L300.64,235.64 L300.63,238.23 L300.62,240.76 L300.62,243.22 L300.61,245.60 L300.60,247.86 L300.60,250.00 L300.60,251.45 L300.59,252.86 L300.59,254.24 L300.59,255.59 L300.59,256.90 L300.59,258.17 L300.58,259.41 L300.58,260.61 L300.59,261.77 L300.59,262.89 L300.59,263.96 L300.60,265.00 L300.60,265.67 L300.60,266.31 L300.60,266.91 L300.60,267.49 L300.60,268.05 L300.61,268.60 L300.61,269.14 L300.62,269.68 L300.63,270.24 L300.65,270.80 L300.67,271.39 L300.70,272.00 L300.74,272.75 L300.78,273.54 L300.83,274.34 L300.88,275.17 L300.93,276.00 L301.00,276.84 L301.07,277.67 L301.15,278.50 L301.24,279.31 L301.35,280.10 L301.47,280.87 L301.60,281.60 L301.73,282.19 L301.87,282.76 L302.02,283.31 L302.18,283.86 L302.35,284.39 L302.52,284.92 L302.70,285.44 L302.88,285.96 L303.06,286.47 L303.25,286.98 L303.43,287.49 L303.60,288.00 L303.76,288.48 L303.92,288.96 L304.08,289.44 L304.24,289.91 L304.40,290.38 L304.56,290.85 L304.73,291.32 L304.89,291.78 L305.06,292.24 L305.24,292.70 L305.42,293.15 L305.60,293.60 L305.78,294.03 L305.97,294.45 L306.16,294.87 L306.35,295.28 L306.55,295.69 L306.75,296.10 L306.95,296.51 L307.16,296.92 L307.37,297.33 L307.58,297.75 L307.79,298.17 L308.00,298.60 L308.23,299.08 L308.47,299.57 L308.71,300.07 L308.95,300.57 L309.19,301.07 L309.43,301.58 L309.68,302.09 L309.94,302.59 L310.19,303.10 L310.46,303.60 L310.72,304.10 L311.00,304.60 L311.29,305.11 L311.59,305.62 L311.89,306.13 L312.19,306.64 L312.50,307.15 L312.82,307.65 L313.14,308.15 L313.47,308.65 L313.80,309.15 L314.13,309.64 L314.46,310.12 L314.80,310.60 L315.13,311.06 L315.47,311.51 L315.81,311.96 L316.16,312.41 L316.51,312.85 L316.86,313.28 L317.22,313.72 L317.57,314.14 L317.93,314.56 L318.29,314.98 L318.64,315.39 L319.00,315.80 L319.33,316.17 L319.66,316.54 L319.99,316.90 L320.32,317.26 L320.66,317.61 L320.99,317.96 L321.32,318.30 L321.66,318.65 L321.99,318.99 L322.33,319.32 L322.66,319.66 L323.00,320.00 L323.33,320.33 L323.66,320.66 L323.99,320.99 L324.32,321.31 L324.65,321.64 L324.98,321.96 L325.31,322.28 L325.65,322.59 L325.98,322.90 L326.32,323.21 L326.66,323.51 L327.00,323.80 L327.33,324.07 L327.65,324.34 L327.98,324.60 L328.32,324.86 L328.65,325.11 L328.98,325.36 L329.32,325.60 L329.65,325.85 L329.99,326.09 L330.33,326.33 L330.66,326.56 L331.00,326.80 L331.33,327.03 L331.66,327.25 L331.99,327.47 L332.33,327.69 L332.66,327.91 L332.99,328.12 L333.33,328.33 L333.66,328.55 L334.00,328.76 L334.33,328.97 L334.67,329.18 L335.00,329.40 L335.33,329.62 L335.67,329.84 L336.00,330.06 L336.33,330.28 L336.66,330.50 L336.99,330.72 L337.33,330.94 L337.66,331.16 L337.99,331.37 L338.33,331.59 L338.66,331.80 L339.00,332.00 L339.33,332.19 L339.65,332.38 L339.96,332.56 L340.27,332.74 L340.59,332.91 L340.91,333.09 L341.23,333.26 L341.56,333.44 L341.90,333.62 L342.25,333.81 L342.62,334.00 L343.00,334.20 L343.57,334.50 L344.17,334.81 L344.80,335.14 L345.45,335.48 L346.13,335.83 L346.82,336.18 L347.51,336.53 L348.22,336.88 L348.92,337.23 L349.63,337.56 L350.32,337.89 L351.00,338.20 L351.66,338.49 L352.32,338.78 L352.99,339.06 L353.65,339.33 L354.32,339.60 L354.99,339.86 L355.66,340.12 L356.32,340.38 L356.99,340.64 L357.66,340.89 L358.33,341.15 L359.00,341.40 L359.67,341.65 L360.34,341.90 L361.01,342.16 L361.68,342.40 L362.35,342.65 L363.03,342.90 L363.70,343.14 L364.37,343.38 L365.03,343.61 L365.69,343.85 L366.35,344.07 L367.00,344.30 L367.60,344.51 L368.21,344.71 L368.82,344.91 L369.43,345.10 L370.03,345.30 L370.63,345.49 L371.22,345.67 L371.81,345.86 L372.38,346.05 L372.93,346.23 L373.48,346.42 L374.00,346.60 L374.40,346.75 L374.80,346.89 L375.18,347.03 L375.55,347.18 L375.91,347.32 L376.27,347.46 L376.62,347.60 L376.97,347.74 L377.33,347.88 L377.68,348.02 L378.04,348.16 L378.40,348.30" fill="none" stroke="#0000ff" stroke-width="1.35" stroke-linejoin="round" />
<path d="M300.90,220.00 L300.89,222.53 L300.88,225.12 L300.87,227.74 L300.86,230.38 L300.84,233.02 L300.83,235.64 L300.82,238.23 L300.81,240.76 L300.81,243.22 L300.80,245.60 L300.80,247.86 L300.80,250.00 L300.80,251.45 L300.80,252.86 L300.81,254.24 L300.81,255.59 L300.81,256.90 L300.82,258.17 L300.82,259.41 L300.83,260.61 L300.84,261.77 L300.86,262.89 L300.88,263.96 L300.90,265.00 L300.92,265.68 L300.93,266.34 L300.94,266.98 L300.95,267.60 L300.97,268.20 L300.99,268.79 L301.01,269.36 L301.03,269.91 L301.06,270.45 L301.10,270.98 L301.14,271.49 L301.20,272.00 L301.24,272.38 L301.28,272.76 L301.32,273.12 L301.35,273.49 L301.39,273.84 L301.44,274.19 L301.49,274.52 L301.56,274.85 L301.64,275.16 L301.74,275.45 L301.86,275.73 L302.00,276.00 L302.14,276.21 L302.30,276.41 L302.48,276.59 L302.66,276.76 L302.86,276.92 L303.07,277.07 L303.28,277.22 L303.50,277.37 L303.72,277.52 L303.95,277.67 L304.18,277.83 L304.40,278.00 L304.67,278.21 L304.95,278.43 L305.24,278.66 L305.54,278.88 L305.84,279.11 L306.15,279.34 L306.46,279.57 L306.77,279.80 L307.08,280.03 L307.39,280.26 L307.70,280.48 L308.00,280.70 L308.30,280.91 L308.60,281.12 L308.89,281.33 L309.19,281.53 L309.49,281.74 L309.79,281.94 L310.09,282.14 L310.39,282.35 L310.69,282.56 L310.99,282.77 L311.30,282.98 L311.60,283.20 L311.92,283.44 L312.24,283.68 L312.56,283.93 L312.89,284.19 L313.21,284.44 L313.53,284.70 L313.85,284.96 L314.18,285.22 L314.51,285.47 L314.84,285.72 L315.17,285.96 L315.50,286.20 L315.84,286.43 L316.18,286.66 L316.52,286.88 L316.87,287.10 L317.21,287.31 L317.56,287.52 L317.91,287.74 L318.26,287.95 L318.60,288.16 L318.94,288.37 L319.27,288.58 L319.60,288.80 L319.90,289.00 L320.19,289.20 L320.47,289.40 L320.75,289.60 L321.03,289.80 L321.31,290.01 L321.58,290.21 L321.86,290.41 L322.14,290.61 L322.42,290.81 L322.71,291.00 L323.00,291.20 L323.31,291.40 L323.62,291.60 L323.94,291.80 L324.26,291.99 L324.58,292.19 L324.90,292.38 L325.23,292.58 L325.55,292.78 L325.87,292.98 L326.18,293.18 L326.49,293.39 L326.80,293.60 L327.09,293.81 L327.38,294.03 L327.67,294.26 L327.95,294.48 L328.22,294.71 L328.50,294.94 L328.78,295.18 L329.06,295.41 L329.34,295.63 L329.62,295.86 L329.91,296.08 L330.20,296.30 L330.51,296.52 L330.81,296.73 L331.13,296.94 L331.44,297.14 L331.76,297.34 L332.08,297.54 L332.40,297.75 L332.72,297.95 L333.04,298.16 L333.36,298.37 L333.68,298.58 L334.00,298.80 L334.33,299.04 L334.66,299.27 L334.99,299.52 L335.31,299.76 L335.64,300.01 L335.97,300.26 L336.30,300.51 L336.63,300.77 L336.97,301.02 L337.31,301.28 L337.65,301.54 L338.00,301.80 L338.39,302.09 L338.79,302.38 L339.18,302.68 L339.58,302.98 L339.98,303.28 L340.39,303.58 L340.80,303.88 L341.22,304.19 L341.65,304.49 L342.09,304.80 L342.54,305.10 L343.00,305.40 L343.56,305.76 L344.14,306.12 L344.74,306.48 L345.35,306.85 L345.97,307.22 L346.60,307.58 L347.24,307.94 L347.89,308.31 L348.54,308.66 L349.19,309.01 L349.85,309.36 L350.50,309.70 L351.18,310.05 L351.88,310.39 L352.58,310.73 L353.29,311.06 L354.00,311.39 L354.72,311.72 L355.44,312.04 L356.15,312.36 L356.87,312.67 L357.59,312.98 L358.30,313.29 L359.00,313.60 L359.67,313.89 L360.34,314.18 L361.01,314.46 L361.68,314.75 L362.34,315.03 L363.01,315.30 L363.67,315.57 L364.33,315.84 L365.00,316.11 L365.66,316.38 L366.33,316.64 L367.00,316.90 L367.66,317.15 L368.32,317.40 L368.98,317.65 L369.63,317.89 L370.29,318.13 L370.95,318.37 L371.61,318.60 L372.27,318.84 L372.95,319.08 L373.62,319.31 L374.31,319.56 L375.00,319.80 L375.77,320.07 L376.54,320.34 L377.33,320.62 L378.12,320.89 L378.92,321.17 L379.72,321.44 L380.53,321.72 L381.34,322.00 L382.15,322.27 L382.97,322.55 L383.78,322.83 L384.60,323.10 L385.44,323.38 L386.26,323.66 L387.08,323.94 L387.89,324.21 L388.71,324.49 L389.53,324.76 L390.37,325.04 L391.23,325.32 L392.12,325.61 L393.04,325.90 L394.00,326.20 L395.00,326.50 L396.52,326.95 L398.13,327.42 L399.82,327.90 L401.58,328.39 L403.40,328.90 L405.26,329.40 L407.14,329.91 L409.04,330.42 L410.94,330.93 L412.82,331.43 L414.68,331.92 L416.50,332.40 L418.29,332.87 L420.08,333.35 L421.87,333.83 L423.65,334.30 L425.44,334.77 L427.23,335.24 L429.02,335.70 L430.81,336.15 L432.61,336.59 L434.40,337.01 L436.20,337.41 L438.00,337.80 L439.79,338.16 L441.59,338.51 L443.39,338.83 L445.19,339.14 L446.99,339.44 L448.79,339.73 L450.59,340.01 L452.40,340.29 L454.20,340.56 L456.00,340.84 L457.80,341.12 L459.60,341.40 L461.40,341.69 L463.22,341.98 L465.05,342.27 L466.89,342.56 L468.73,342.85 L470.56,343.14 L472.38,343.42 L474.18,343.69 L475.94,343.96 L477.67,344.22 L479.36,344.46 L481.00,344.70 L482.31,344.88 L483.58,345.06 L484.82,345.23 L486.04,345.39 L487.24,345.54 L488.42,345.70 L489.60,345.85 L490.77,345.99 L491.94,346.14 L493.12,346.29 L494.30,346.44 L495.50,346.60" fill="none" stroke="#ff0000" stroke-width="1.3" stroke-dasharray="4.2 1.9 0.8 1.9" stroke-linejoin="round" />
<path d="M300.80,220.00 L300.79,222.53 L300.78,225.12 L300.77,227.74 L300.76,230.38 L300.74,233.02 L300.73,235.64 L300.72,238.23 L300.71,240.76 L300.71,243.22 L300.70,245.60 L300.70,247.86 L300.70,250.00 L300.70,251.44 L300.70,252.83 L300.71,254.18 L300.71,255.49 L300.71,256.77 L300.71,258.01 L300.72,259.23 L300.73,260.42 L300.74,261.58 L300.76,262.74 L300.78,263.87 L300.80,265.00 L300.82,265.91 L300.84,266.81 L300.86,267.69 L300.89,268.56 L300.91,269.42 L300.94,270.26 L300.97,271.09 L301.01,271.90 L301.05,272.70 L301.09,273.48 L301.14,274.25 L301.20,275.00 L301.25,275.60 L301.29,276.20 L301.33,276.79 L301.38,277.37 L301.42,277.94 L301.47,278.50 L301.53,279.05 L301.60,279.58 L301.68,280.09 L301.77,280.58 L301.88,281.05 L302.00,281.50 L302.10,281.81 L302.19,282.12 L302.29,282.42 L302.40,282.71 L302.51,282.99 L302.62,283.26 L302.75,283.51 L302.89,283.76 L303.04,283.99 L303.21,284.21 L303.40,284.41 L303.60,284.60 L303.85,284.78 L304.13,284.93 L304.43,285.06 L304.75,285.17 L305.08,285.26 L305.43,285.34 L305.79,285.42 L306.15,285.49 L306.52,285.55 L306.88,285.63 L307.25,285.71 L307.60,285.80 L307.98,285.91 L308.37,286.02 L308.76,286.13 L309.15,286.24 L309.55,286.36 L309.95,286.47 L310.35,286.58 L310.75,286.69 L311.16,286.79 L311.57,286.90 L311.98,287.00 L312.40,287.10 L312.85,287.20 L313.30,287.31 L313.76,287.41 L314.22,287.51 L314.68,287.61 L315.14,287.70 L315.61,287.79 L316.08,287.88 L316.56,287.97 L317.04,288.05 L317.52,288.13 L318.00,288.20 L318.52,288.27 L319.04,288.33 L319.58,288.39 L320.11,288.44 L320.66,288.48 L321.20,288.53 L321.74,288.57 L322.28,288.61 L322.82,288.65 L323.35,288.70 L323.88,288.75 L324.40,288.80 L324.88,288.85 L325.36,288.90 L325.83,288.95 L326.30,289.00 L326.76,289.05 L327.23,289.11 L327.69,289.16 L328.15,289.22 L328.61,289.28 L329.07,289.35 L329.54,289.42 L330.00,289.50 L330.47,289.59 L330.93,289.68 L331.40,289.77 L331.86,289.87 L332.32,289.97 L332.78,290.08 L333.25,290.19 L333.71,290.31 L334.18,290.42 L334.65,290.55 L335.12,290.67 L335.60,290.80 L336.12,290.94 L336.65,291.09 L337.18,291.25 L337.71,291.41 L338.24,291.57 L338.78,291.74 L339.32,291.91 L339.86,292.08 L340.40,292.26 L340.93,292.44 L341.47,292.62 L342.00,292.80 L342.54,292.99 L343.07,293.18 L343.60,293.37 L344.14,293.57 L344.67,293.77 L345.20,293.98 L345.74,294.18 L346.27,294.39 L346.80,294.59 L347.33,294.80 L347.87,295.00 L348.40,295.20 L348.93,295.40 L349.46,295.60 L349.99,295.79 L350.52,295.99 L351.05,296.18 L351.58,296.38 L352.11,296.58 L352.64,296.78 L353.18,296.98 L353.71,297.18 L354.25,297.39 L354.80,297.60 L355.38,297.83 L355.96,298.06 L356.54,298.29 L357.13,298.53 L357.71,298.77 L358.30,299.01 L358.89,299.26 L359.49,299.50 L360.10,299.75 L360.72,300.00 L361.36,300.25 L362.00,300.50 L362.77,300.80 L363.55,301.10 L364.34,301.40 L365.14,301.71 L365.96,302.02 L366.78,302.33 L367.62,302.64 L368.47,302.96 L369.33,303.27 L370.21,303.58 L371.10,303.89 L372.00,304.20 L373.08,304.56 L374.19,304.92 L375.33,305.28 L376.48,305.65 L377.66,306.01 L378.84,306.37 L380.04,306.73 L381.24,307.09 L382.44,307.45 L383.64,307.80 L384.82,308.15 L386.00,308.50 L387.16,308.84 L388.32,309.19 L389.47,309.52 L390.62,309.86 L391.77,310.20 L392.92,310.53 L394.08,310.86 L395.24,311.19 L396.41,311.52 L397.60,311.85 L398.79,312.17 L400.00,312.50 L401.32,312.85 L402.64,313.19 L403.97,313.53 L405.31,313.87 L406.66,314.21 L408.02,314.55 L409.40,314.88 L410.78,315.22 L412.19,315.56 L413.61,315.90 L415.04,316.25 L416.50,316.60 L418.19,317.01 L419.92,317.43 L421.67,317.85 L423.45,318.28 L425.25,318.71 L427.06,319.15 L428.88,319.58 L430.71,320.00 L432.55,320.42 L434.37,320.83 L436.19,321.22 L438.00,321.60 L439.79,321.96 L441.59,322.31 L443.39,322.66 L445.19,322.99 L446.99,323.31 L448.80,323.63 L450.60,323.94 L452.40,324.25 L454.20,324.56 L456.00,324.87 L457.80,325.18 L459.60,325.50 L461.40,325.82 L463.22,326.15 L465.05,326.48 L466.89,326.81 L468.73,327.14 L470.56,327.47 L472.38,327.79 L474.17,328.11 L475.94,328.40 L477.67,328.69 L479.36,328.95 L481.00,329.20 L482.30,329.38 L483.58,329.55 L484.82,329.71 L486.04,329.86 L487.24,329.99 L488.42,330.13 L489.60,330.25 L490.77,330.38 L491.94,330.50 L493.12,330.63 L494.30,330.76 L495.50,330.90" fill="none" stroke="#b440c0" stroke-width="1.9" stroke-dasharray="1 1.7" stroke-linejoin="round" />
<path d="M301.00,220.00 L300.99,222.53 L300.98,225.12 L300.97,227.74 L300.96,230.38 L300.95,233.02 L300.94,235.64 L300.93,238.23 L300.92,240.76 L300.92,243.22 L300.91,245.60 L300.90,247.86 L300.90,250.00 L300.90,251.44 L300.89,252.82 L300.89,254.16 L300.88,255.46 L300.88,256.72 L300.87,257.95 L300.87,259.15 L300.87,260.34 L300.87,261.51 L300.88,262.67 L300.89,263.84 L300.90,265.00 L300.90,266.03 L300.87,267.08 L300.83,268.13 L300.79,269.18 L300.74,270.21 L300.71,271.23 L300.69,272.22 L300.70,273.18 L300.75,274.10 L300.84,274.96 L300.99,275.76 L301.20,276.50 L301.38,276.96 L301.57,277.39 L301.79,277.79 L302.03,278.17 L302.28,278.53 L302.55,278.88 L302.83,279.21 L303.12,279.53 L303.43,279.84 L303.74,280.16 L304.07,280.48 L304.40,280.80 L304.79,281.17 L305.20,281.54 L305.62,281.90 L306.07,282.26 L306.52,282.62 L306.99,282.96 L307.47,283.30 L307.96,283.62 L308.46,283.94 L308.97,284.24 L309.48,284.53 L310.00,284.80 L310.55,285.07 L311.12,285.33 L311.70,285.58 L312.29,285.81 L312.89,286.03 L313.50,286.24 L314.12,286.44 L314.74,286.62 L315.36,286.78 L315.97,286.94 L316.59,287.08 L317.20,287.20 L317.79,287.30 L318.38,287.39 L318.96,287.45 L319.55,287.50 L320.13,287.54 L320.72,287.57 L321.32,287.59 L321.92,287.59 L322.52,287.60 L323.14,287.60 L323.76,287.60 L324.40,287.60 L325.15,287.60 L325.92,287.58 L326.70,287.55 L327.49,287.52 L328.29,287.47 L329.10,287.43 L329.92,287.37 L330.73,287.32 L331.55,287.26 L332.37,287.21 L333.19,287.15 L334.00,287.10 L334.83,287.05 L335.66,286.99 L336.49,286.93 L337.32,286.87 L338.15,286.81 L338.99,286.74 L339.82,286.68 L340.66,286.62 L341.49,286.56 L342.33,286.50 L343.17,286.45 L344.00,286.40 L344.82,286.35 L345.63,286.31 L346.43,286.27 L347.22,286.23 L348.02,286.19 L348.82,286.16 L349.63,286.12 L350.45,286.09 L351.29,286.06 L352.16,286.04 L353.06,286.02 L354.00,286.00 L355.32,285.98 L356.72,285.97 L358.18,285.96 L359.69,285.97 L361.24,285.97 L362.81,285.98 L364.39,285.99 L365.97,286.01 L367.54,286.03 L369.07,286.05 L370.56,286.08 L372.00,286.10 L373.23,286.12 L374.44,286.15 L375.62,286.18 L376.80,286.21 L377.96,286.25 L379.11,286.28 L380.26,286.32 L381.40,286.36 L382.54,286.39 L383.69,286.43 L384.84,286.47 L386.00,286.50 L387.15,286.53 L388.27,286.57 L389.38,286.60 L390.47,286.63 L391.57,286.66 L392.67,286.70 L393.79,286.73 L394.94,286.76 L396.13,286.80 L397.36,286.83 L398.65,286.86 L400.00,286.90 L402.10,286.95 L404.35,287.01 L406.71,287.06 L409.16,287.12 L411.70,287.18 L414.29,287.24 L416.93,287.29 L419.58,287.35 L422.24,287.41 L424.87,287.48 L427.46,287.54 L430.00,287.60 L432.49,287.66 L434.97,287.73 L437.44,287.79 L439.91,287.86 L442.37,287.92 L444.84,287.99 L447.32,288.05 L449.81,288.12 L452.32,288.19 L454.85,288.26 L457.41,288.33 L460.00,288.40 L462.85,288.48 L465.74,288.56 L468.67,288.64 L471.61,288.72 L474.58,288.81 L477.56,288.89 L480.56,288.98 L483.56,289.06 L486.56,289.15 L489.55,289.23 L492.53,289.32 L495.50,289.40" fill="none" stroke="#000" stroke-width="1.4" stroke-dasharray="3.7 2.9" stroke-linejoin="round" />
<rect x="300.5" y="201.5" width="195.0" height="147.0" fill="none" stroke="#9a9a9a" stroke-width="1"/>
<path d="M339.50,348.5 v-2.0 M339.50,201.5 v2.0 M378.50,348.5 v-2.0 M378.50,201.5 v2.0 M417.50,348.5 v-2.0 M417.50,201.5 v2.0 M456.50,348.5 v-2.0 M456.50,201.5 v2.0 M300.5,238.25 h2.0 M495.5,238.25 h-2.0 M300.5,275.00 h2.0 M495.5,275.00 h-2.0 M300.5,311.75 h2.0 M495.5,311.75 h-2.0" stroke="#888" stroke-width="0.8" fill="none"/>
<text x="300.50" y="359.3" font-size="9.4" text-anchor="middle" fill="#000" >0</text>
<text x="339.50" y="359.3" font-size="9.4" text-anchor="middle" fill="#000" >2</text>
<text x="378.50" y="359.3" font-size="9.4" text-anchor="middle" fill="#000" >4</text>
<text x="417.50" y="359.3" font-size="9.4" text-anchor="middle" fill="#000" >6</text>
<text x="456.50" y="359.3" font-size="9.4" text-anchor="middle" fill="#000" >8</text>
<text x="495.50" y="359.3" font-size="9.4" text-anchor="middle" fill="#000" >10</text>
<text x="287.4" y="205.10" font-size="9.8" text-anchor="end">10</text>
<text x="288.1" y="198.90" font-size="6.3">&#8722;14</text>
<text x="287.4" y="241.85" font-size="9.8" text-anchor="end">10</text>
<text x="288.1" y="235.65" font-size="6.3">&#8722;16</text>
<text x="287.4" y="278.60" font-size="9.8" text-anchor="end">10</text>
<text x="288.1" y="272.40" font-size="6.3">&#8722;18</text>
<text x="287.4" y="315.35" font-size="9.8" text-anchor="end">10</text>
<text x="288.1" y="309.15" font-size="6.3">&#8722;20</text>
<text x="287.4" y="352.10" font-size="9.8" text-anchor="end">10</text>
<text x="288.1" y="345.90" font-size="6.3">&#8722;22</text>
<text transform="translate(397.8,372.2) scale(1,0.9)" font-size="10" text-anchor="middle" fill="#000" >Q (10<tspan dy="-4" font-size="7">6</tspan><tspan dy="4"> cm</tspan><tspan dy="-4" font-size="7">&#8722;1</tspan><tspan dy="4">)</tspan></text>
<text transform="translate(271.8,275.7) rotate(-90)" font-size="10.1" text-anchor="middle">Scattering strength (V<tspan dy="-4" font-size="7">2</tspan><tspan dy="4"> m</tspan><tspan dy="-4" font-size="7">2</tspan><tspan dy="4">)</tspan></text>
<text x="303.4" y="339.1" font-size="12" text-anchor="start" fill="#000" >(d)</text>
<text x="318.8" y="214.2" font-size="10">n<tspan dy="4.8" dx="0.1" font-size="7.6">s</tspan><tspan dy="-4.8" dx="-0.3">=1.4&#215;10</tspan><tspan dy="-5.2" font-size="7">13</tspan><tspan dy="5.2"> cm</tspan><tspan dy="-5.2" font-size="7">&#8722;2</tspan></text>
<text x="318.8" y="227" font-size="10">HfO<tspan dy="5.2" font-size="7">2</tspan><tspan dy="-5.2">/GaAs</tspan></text>
<path d="M441.1,217.3 H468.7" stroke="#0000ff" stroke-width="1.3" fill="none"/>
<text transform="translate(472.50,219.80) scale(1.12,1.0)" font-size="9.6" style="font-family:'Liberation Serif',serif">&#969;</text>
<text x="479.20" y="223.90" font-size="6.5">1</text>
<path d="M441.1,236.2 H468.7" stroke="#ff0000" stroke-width="1.3" stroke-dasharray="4.2 1.9 0.8 1.9" fill="none"/>
<text transform="translate(472.50,238.70) scale(1.12,1.0)" font-size="9.6" style="font-family:'Liberation Serif',serif">&#969;</text>
<text x="479.20" y="242.80" font-size="6.5">2</text>
<path d="M441.1,255.4 H468.7" stroke="#b440c0" stroke-width="1.9" stroke-dasharray="1 1.7" fill="none"/>
<text transform="translate(472.50,257.90) scale(1.12,1.0)" font-size="9.6" style="font-family:'Liberation Serif',serif">&#969;</text>
<text x="479.20" y="262.00" font-size="6.5">3</text>
<path d="M441.1,274.3 H468.7" stroke="#000" stroke-width="1.4" stroke-dasharray="3.7 2.9" fill="none"/>
<text transform="translate(472.50,276.80) scale(1.12,1.0)" font-size="9.6" style="font-family:'Liberation Serif',serif">&#969;</text>
<text x="479.20" y="280.90" font-size="6.5">4</text>
</g>
</svg>
</body></html>
